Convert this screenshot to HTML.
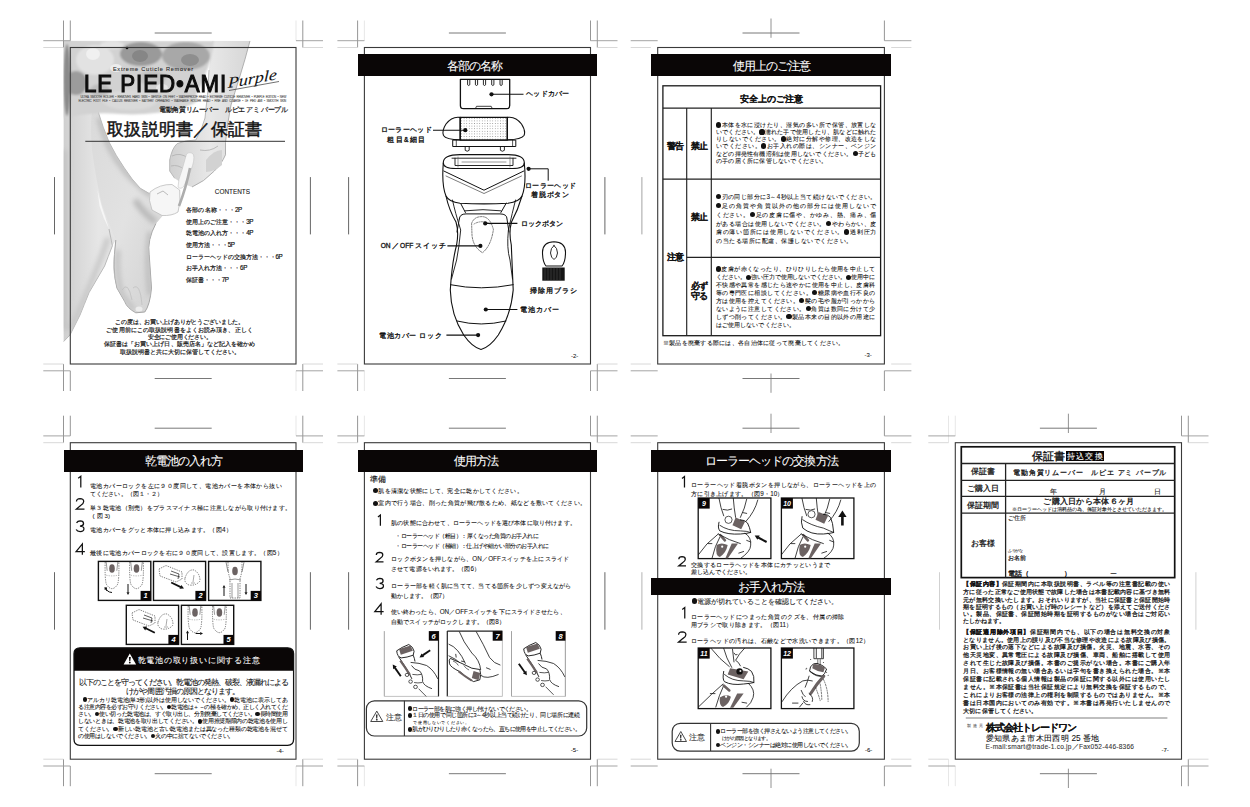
<!DOCTYPE html>
<html><head><meta charset="utf-8">
<style>
html,body{margin:0;padding:0;background:#fff;}
body{width:1250px;height:807px;position:relative;overflow:hidden;font-family:"Liberation Sans",sans-serif;}
.t{position:absolute;white-space:nowrap;overflow:visible;-webkit-text-stroke:0.08px currentColor;}
.bar{position:absolute;background:#0a0606;}
.abs{position:absolute;}
.d{display:inline-block;width:0.82em;height:0.82em;border-radius:50%;background:currentColor;vertical-align:-0.08em;}
svg.ov{position:absolute;left:0;top:0;}
</style></head><body>
<svg class="ov" width="1250" height="807" viewBox="0 0 1250 807">
<path d="M74,670.7 L74,653.8 Q74,647.8 80,647.8 L287.6,647.8 Q293.6,647.8 293.6,653.8 L293.6,670.7 Z" fill="#0a0606"/>
<defs><pattern id="dots" width="2.6" height="2.6" patternUnits="userSpaceOnUse"><circle cx="1.3" cy="1.3" r="0.45" fill="#777"/></pattern></defs>
<rect x="460.2" y="117.4" width="47.1" height="22.7" fill="url(#dots)"/>
<defs>
<filter id="bl1" x="-20%" y="-20%" width="140%" height="140%"><feGaussianBlur stdDeviation="1.2"/></filter>
<filter id="bl2" x="-20%" y="-20%" width="140%" height="140%"><feGaussianBlur stdDeviation="2.5"/></filter>
<filter id="bl05"><feGaussianBlur stdDeviation="0.5"/></filter>
<linearGradient id="legA" x1="0" y1="0" x2="1" y2="0"><stop offset="0" stop-color="#cfcfcf"/><stop offset="0.35" stop-color="#e6e6e6"/><stop offset="1" stop-color="#dcdcdc"/></linearGradient>
<linearGradient id="legB" x1="0" y1="0" x2="1" y2="1"><stop offset="0" stop-color="#dadada"/><stop offset="0.5" stop-color="#e2e2e2"/><stop offset="1" stop-color="#d0d0d0"/></linearGradient>
<linearGradient id="arm" x1="0" y1="0" x2="1" y2="0"><stop offset="0" stop-color="#d0d0d0"/><stop offset="0.5" stop-color="#e8e8e8"/><stop offset="1" stop-color="#d6d6d6"/></linearGradient>
<clipPath id="legclip"><path d="M63.4,40.8 L150,40.8 L150,100 L97.9,111 Q103,128 109.1,142.2 Q116,156 124,167.5 Q132,180 140.3,188.3 L150.7,194.3 L160,200 L164,214 L155.9,223.5 Q147,240 149.2,254.8 L151.5,288 Q150,305 144.8,312 L135.8,312.8 Q127,308 124.7,301.6 L116.9,288 Q112,270 113.5,259 L115.8,240 L112.4,245.8 Q108,257 104.6,266 L89,292.7 Q84,305 80,315 L70,335 L63.4,341.8 Z"/></clipPath>
<clipPath id="cov"><rect x="63.4" y="40.8" width="240" height="330"/></clipPath>
</defs>
<g clip-path="url(#cov)">
<g filter="url(#bl05)">
<path d="M63.4,40.8 L150,40.8 L150,100 L97.9,111 Q103,128 109.1,142.2 Q116,156 124,167.5 Q132,180 140.3,188.3 L150.7,194.3 L160,200 L164,214 L155.9,223.5 Q147,240 149.2,254.8 L151.5,288 Q150,305 144.8,312 L135.8,312.8 Q127,308 124.7,301.6 L116.9,288 Q112,270 113.5,259 L115.8,240 L112.4,245.8 Q108,257 104.6,266 L89,292.7 Q84,305 80,315 L70,335 L63.4,341.8 Z" fill="url(#legA)"/>
<path d="M97.9,111 Q103,128 109.1,142.2 Q116,156 124,167.5 Q132,180 140.3,188.3 L150.7,194.3 L160,200 L164,214 L155.9,223.5 Q147,240 149.2,254.8 L151.5,288 Q150,305 144.8,312 L135.8,312.8 Q127,308 124.7,301.6 L116.9,288 Q112,270 113.5,259 L115.8,240 Q108,222 102,205 Q96,180 92,150 Q90,130 92,111 Z" fill="url(#legB)"/>
<path d="M97.5,190 Q101,205 104.6,215 L109,229 Q103,218 99.5,206 Z" fill="#f6f6f6"/>
<path d="M97.9,111 Q103,128 109.1,142.2 Q116,156 124,167.5 Q132,180 140.3,188.3 L150.7,194.3" fill="none" stroke="#b4b4b4" stroke-width="0.9"/>
<path d="M115.8,240 Q112,270 116.9,288 L124.7,301.6 Q127,308 135.8,312.8 L144.8,312 Q150,305 151.5,288 L149.2,254.8 Q147,240 155.9,223.5" fill="none" stroke="#a6a6a6" stroke-width="1"/>
<path d="M109,229 L112.4,245.8 Q108,257 104.6,266 L89,292.7 Q84,305 80,315 L70,335 L63.4,341.8" fill="none" stroke="#b8b8b8" stroke-width="1"/>
<g clip-path="url(#legclip)"><g filter="url(#bl2)">
<path d="M99,118 Q106,148 124,170 Q136,184 152,196" fill="none" stroke="#bcbcbc" stroke-width="5"/>
<path d="M118,250 Q116,275 122,295 L134,310" fill="none" stroke="#c2c2c2" stroke-width="5"/>
<path d="M150,232 Q146,260 150,295" fill="none" stroke="#bdbdbd" stroke-width="5"/>
<path d="M108,238 Q100,262 88,290 Q80,310 70,330" fill="none" stroke="#c6c6c6" stroke-width="5"/>
<path d="M63.4,150 L63.4,330" fill="none" stroke="#c4c4c4" stroke-width="8"/>
<path d="M135,200 Q145,215 156,222" fill="none" stroke="#b8b8b8" stroke-width="6"/>
</g></g>
<ellipse cx="139" cy="309" rx="3.5" ry="2.5" fill="#ececec"/>
<path d="M122,290 Q128,280 132,300 M133,288 Q140,282 142,305" fill="none" stroke="#c0c0c0" stroke-width="0.8"/>
<path d="M212,40.8 L250,40.8 Q245,60 240,75.9 Q234,95 231,105 Q227,125 225.5,142.4 L225.5,154.8 Q221,165 214.3,171 Q204,182 192,187 Q182,184 174.7,178.3 L169.7,171 L169.7,160 Q172,148 177.2,143.6 Q186,140 195.8,140 Q202,130 205,118 Q208,95 209,70 Z" fill="url(#arm)"/>
<path d="M250,40.8 Q245,60 240,75.9 Q234,95 231,105 Q227,125 225.5,142.4 L225.5,154.8 Q221,165 214.3,171 Q204,182 192,187" fill="none" stroke="#a8a8a8" stroke-width="0.9"/>
<path d="M209,70 Q208,95 205,118 Q202,130 195.8,140 Q186,140 177.2,143.6 Q172,148 169.7,160 L169.7,171 L174.7,178.3" fill="none" stroke="#b2b2b2" stroke-width="0.9"/>
<path d="M172,156 Q180,152 188,158 M171,166 Q178,164 185,170 M200,150 Q210,152 218,146" fill="none" stroke="#b4b4b4" stroke-width="0.9"/>
<path d="M206,160 Q214,150 222,150 L222,165 Q214,172 206,172 Z" fill="#d2d2d2"/>
<path d="M186.5,154 Q190,151 193.5,154.5 Q195,160 191,170 L184,186 Q181,190 178,187 Q178,180 182,170 Z" fill="#f6f6f6" stroke="#c4c4c4" stroke-width="0.6"/>
<path d="M150,192 Q160,184 172,184.5 L179.7,190 Q181,202 178,212 Q172,216 162,215.5 L152,210 Q148,200 150,192 Z" fill="#f6f6f6" stroke="#bcbcbc" stroke-width="0.8"/>
<path d="M190,168 Q186,188 179,206" fill="none" stroke="#adadad" stroke-width="2.6"/>
<path d="M157,194 L163,191 L168,195" fill="none" stroke="#a0a0a0" stroke-width="0.7"/>
</g>
<g filter="url(#bl1)">
<path d="M63.4,40.8 L214,40.8 Q212,60 205,75 Q198,95 185,108 Q150,116 120,114 Q95,112 75,116 L63.4,118 Z" fill="#d2d2d2"/>
<ellipse cx="141" cy="54" rx="21" ry="12" fill="#9a9a9a"/>
<ellipse cx="186" cy="56" rx="24" ry="14" fill="#a8a8a8"/>
<ellipse cx="95" cy="60" rx="19" ry="15" fill="#e2e2e2"/>
<ellipse cx="76" cy="83" rx="11" ry="12" fill="#9c9c9c"/>
<ellipse cx="130" cy="100" rx="28" ry="10" fill="#dadada"/>
<ellipse cx="178" cy="98" rx="20" ry="9" fill="#d4d4d4"/>
<ellipse cx="67" cy="80" rx="3.5" ry="36" fill="#8a8a8a"/>
<ellipse cx="152" cy="78" rx="14" ry="7" fill="#c2c2c2"/>
<ellipse cx="112" cy="45" rx="12" ry="4" fill="#e4e4e4"/>
<ellipse cx="100" cy="90" rx="10" ry="6" fill="#bdbdbd"/>
</g>
<g filter="url(#bl05)">
<ellipse cx="140" cy="56" rx="8" ry="6" fill="#868686"/>
<ellipse cx="190" cy="60" rx="9" ry="6" fill="#8e8e8e"/>
<ellipse cx="116" cy="68" rx="6" ry="4" fill="#ececec"/>
<ellipse cx="93" cy="54" rx="7" ry="6" fill="#f0f0f0"/>
<ellipse cx="162" cy="88" rx="6" ry="4" fill="#e6e6e6"/>
<circle cx="127" cy="48" r="1.3" fill="#111"/>
</g>
</g>
<rect x="70.3" y="47.5" width="225.7" height="316.5" fill="none" stroke="#3a3a3a" stroke-width="1.1"/>
<rect x="364.4" y="47.5" width="226.1" height="316.5" fill="none" stroke="#3a3a3a" stroke-width="1.1"/>
<rect x="657.7" y="47.5" width="226.7" height="316.5" fill="none" stroke="#3a3a3a" stroke-width="1.1"/>
<rect x="70.3" y="442.7" width="225.7" height="316.5" fill="none" stroke="#3a3a3a" stroke-width="1.1"/>
<rect x="364.4" y="442.7" width="226.1" height="316.5" fill="none" stroke="#3a3a3a" stroke-width="1.1"/>
<rect x="657.7" y="442.7" width="226.7" height="316.5" fill="none" stroke="#3a3a3a" stroke-width="1.1"/>
<rect x="955.3" y="442.7" width="226.2" height="316.5" fill="none" stroke="#3a3a3a" stroke-width="1.1"/>
</svg>
<div class="bar" style="left:357.6px;top:54.3px;width:239.7px;height:21.9px"></div>
<div class="t" style="left:446.5px;top:58.5px;width:55.2px;height:15.0px;line-height:15.0px;font-size:11.5px;font-weight:normal;color:#fff;text-align:justify;text-align-last:justify;letter-spacing:-1.07px;">各部の名称</div>
<div class="bar" style="left:650.9px;top:54.3px;width:240.3px;height:21.9px"></div>
<div class="t" style="left:732.9px;top:58.5px;width:77.5px;height:15.0px;line-height:15.0px;font-size:11.5px;font-weight:normal;color:#fff;text-align:justify;text-align-last:justify;letter-spacing:-1.04px;">使用上のご注意</div>
<div class="bar" style="left:63.5px;top:449.5px;width:239.3px;height:22.3px"></div>
<div class="t" style="left:144.9px;top:453.9px;width:77.1px;height:15.0px;line-height:15.0px;font-size:11.5px;font-weight:normal;color:#fff;text-align:justify;text-align-last:justify;letter-spacing:-1.10px;">乾電池の入れ方</div>
<div class="bar" style="left:357.6px;top:449.5px;width:239.7px;height:22.3px"></div>
<div class="t" style="left:454.0px;top:453.9px;width:44.3px;height:15.0px;line-height:15.0px;font-size:11.5px;font-weight:normal;color:#fff;text-align:justify;text-align-last:justify;letter-spacing:-1.04px;">使用方法</div>
<div class="bar" style="left:650.9px;top:449.5px;width:240.3px;height:22.3px"></div>
<div class="t" style="left:704.5px;top:453.9px;width:133.1px;height:15.0px;line-height:15.0px;font-size:11.5px;font-weight:normal;color:#fff;text-align:justify;text-align-last:justify;letter-spacing:-1.02px;">ローラーヘッドの交換方法</div>
<div class="bar" style="left:650.9px;top:577.7px;width:240.3px;height:17.3px"></div>
<div class="t" style="left:737.8px;top:579.6px;width:66.5px;height:15.0px;line-height:15.0px;font-size:11.5px;font-weight:normal;color:#fff;text-align:justify;text-align-last:justify;letter-spacing:-1.03px;">お手入れ方法</div>
<div class="t" style="left:740.3px;top:92.5px;width:62.4px;height:12.0px;line-height:12.0px;font-size:9.2px;font-weight:bold;color:#111;text-align:justify;text-align-last:justify;letter-spacing:-0.17px;">安全上のご注意</div>
<div class="t" style="left:666.6px;top:141.2px;width:17.1px;height:11.2px;line-height:11.2px;font-size:8.6px;font-weight:bold;color:#111;text-align:justify;text-align-last:justify;letter-spacing:-0.54px;">警告</div>
<div class="t" style="left:690.5px;top:141.2px;width:17.1px;height:11.2px;line-height:11.2px;font-size:8.6px;font-weight:bold;color:#111;text-align:justify;text-align-last:justify;letter-spacing:-0.54px;">禁止</div>
<div class="t" style="left:666.6px;top:251.8px;width:17.1px;height:11.2px;line-height:11.2px;font-size:8.6px;font-weight:bold;color:#111;text-align:justify;text-align-last:justify;letter-spacing:-0.54px;">注意</div>
<div class="t" style="left:690.5px;top:212.2px;width:17.1px;height:11.2px;line-height:11.2px;font-size:8.6px;font-weight:bold;color:#111;text-align:justify;text-align-last:justify;letter-spacing:-0.54px;">禁止</div>
<div class="t" style="left:690.6px;top:280.7px;width:17.1px;height:11.2px;line-height:11.2px;font-size:8.6px;font-weight:bold;color:#111;text-align:justify;text-align-last:justify;letter-spacing:-0.54px;">必ず</div>
<div class="t" style="left:690.6px;top:290.6px;width:17.1px;height:11.2px;line-height:11.2px;font-size:8.6px;font-weight:bold;color:#111;text-align:justify;text-align-last:justify;letter-spacing:-0.54px;">守る</div>
<div class="t" style="left:716.0px;top:121.0px;width:160.4px;height:8.2px;line-height:8.2px;font-size:6.3px;font-weight:normal;color:#111;text-align:justify;text-align-last:justify;"><i class="d"></i>本体を水に浸けたり、湿気の多い所で保管、放置しな</div>
<div class="t" style="left:716.0px;top:128.1px;width:160.4px;height:8.2px;line-height:8.2px;font-size:6.3px;font-weight:normal;color:#111;text-align:justify;text-align-last:justify;">いでください。<i class="d"></i>濡れた手で使用したり、肌などに触れた</div>
<div class="t" style="left:716.0px;top:135.0px;width:160.4px;height:8.2px;line-height:8.2px;font-size:6.3px;font-weight:normal;color:#111;text-align:justify;text-align-last:justify;">りしないでください。<i class="d"></i>絶対に分解や修理、改造をしな</div>
<div class="t" style="left:716.0px;top:142.1px;width:160.4px;height:8.2px;line-height:8.2px;font-size:6.3px;font-weight:normal;color:#111;text-align:justify;text-align-last:justify;">いでください。<i class="d"></i>お手入れの際は、シンナー、ベンジン</div>
<div class="t" style="left:716.0px;top:149.5px;width:160.4px;height:8.2px;line-height:8.2px;font-size:6.3px;font-weight:normal;color:#111;text-align:justify;text-align-last:justify;">などの揮発性有機溶剤は使用しないでください。<i class="d"></i>子ども</div>
<div class="t" style="left:716.0px;top:156.5px;width:111.3px;height:8.2px;line-height:8.2px;font-size:6.3px;font-weight:normal;color:#111;text-align:justify;text-align-last:justify;">の手の届く所に保管しないでください。</div>
<div class="t" style="left:716.0px;top:192.6px;width:160.4px;height:8.2px;line-height:8.2px;font-size:6.3px;font-weight:normal;color:#111;text-align:justify;text-align-last:justify;"><i class="d"></i>刃の同じ部分に3～4秒以上当て続けないでください。</div>
<div class="t" style="left:716.0px;top:201.5px;width:160.4px;height:8.2px;line-height:8.2px;font-size:6.3px;font-weight:normal;color:#111;text-align:justify;text-align-last:justify;"><i class="d"></i>足の角質や角質以外の他の部分には使用しないで</div>
<div class="t" style="left:716.0px;top:210.6px;width:160.4px;height:8.2px;line-height:8.2px;font-size:6.3px;font-weight:normal;color:#111;text-align:justify;text-align-last:justify;">ください。<i class="d"></i>足の皮膚に傷や、かゆみ、熱、痛み、傷</div>
<div class="t" style="left:716.0px;top:219.5px;width:160.4px;height:8.2px;line-height:8.2px;font-size:6.3px;font-weight:normal;color:#111;text-align:justify;text-align-last:justify;">がある場合は使用しないでください。<i class="d"></i>やわらかい、皮</div>
<div class="t" style="left:716.0px;top:228.1px;width:160.4px;height:8.2px;line-height:8.2px;font-size:6.3px;font-weight:normal;color:#111;text-align:justify;text-align-last:justify;">膚の薄い箇所には使用しないでください。<i class="d"></i>過剰圧力</div>
<div class="t" style="left:716.0px;top:237.0px;width:136.4px;height:8.2px;line-height:8.2px;font-size:6.3px;font-weight:normal;color:#111;text-align:justify;text-align-last:justify;">の当たる場所に配慮、保護しないでください。</div>
<div class="t" style="left:715.8px;top:265.1px;width:159.3px;height:8.2px;line-height:8.2px;font-size:6.3px;font-weight:normal;color:#111;text-align:justify;text-align-last:justify;"><i class="d"></i>皮膚が赤くなったり、ひりひりしたら使用を中止して</div>
<div class="t" style="left:715.8px;top:273.2px;width:159.3px;height:8.2px;line-height:8.2px;font-size:6.3px;font-weight:normal;color:#111;text-align:justify;text-align-last:justify;letter-spacing:-0.10px;">ください。<i class="d"></i>強い圧力で使用しないでください。<i class="d"></i>使用中に</div>
<div class="t" style="left:715.8px;top:280.8px;width:159.3px;height:8.2px;line-height:8.2px;font-size:6.3px;font-weight:normal;color:#111;text-align:justify;text-align-last:justify;">不快感や異常を感じたら速やかに使用を中止し、皮膚科</div>
<div class="t" style="left:715.8px;top:288.5px;width:159.3px;height:8.2px;line-height:8.2px;font-size:6.3px;font-weight:normal;color:#111;text-align:justify;text-align-last:justify;">等の専門医に相談してください。<i class="d"></i>糖尿病や血行不良の</div>
<div class="t" style="left:715.8px;top:296.6px;width:159.3px;height:8.2px;line-height:8.2px;font-size:6.3px;font-weight:normal;color:#111;text-align:justify;text-align-last:justify;">方は使用を控えてください。<i class="d"></i>髪の毛や服が引っかから</div>
<div class="t" style="left:715.8px;top:304.7px;width:159.3px;height:8.2px;line-height:8.2px;font-size:6.3px;font-weight:normal;color:#111;text-align:justify;text-align-last:justify;">ないように注意してください。<i class="d"></i>角質は数回に分けて少</div>
<div class="t" style="left:715.8px;top:312.8px;width:159.3px;height:8.2px;line-height:8.2px;font-size:6.3px;font-weight:normal;color:#111;text-align:justify;text-align-last:justify;">しずつ削ってください。<i class="d"></i>製品本来の目的以外の用途に</div>
<div class="t" style="left:715.8px;top:320.5px;width:79.2px;height:8.2px;line-height:8.2px;font-size:6.3px;font-weight:normal;color:#111;text-align:justify;text-align-last:justify;">はご使用しないでください。</div>
<div class="t" style="left:662.7px;top:338.9px;width:181.8px;height:8.2px;line-height:8.2px;font-size:6.3px;font-weight:normal;color:#111;text-align:justify;text-align-last:justify;">※製品を廃棄する際には、各自治体に従って廃棄してください。</div>
<div class="t" style="left:864.5px;top:351.7px;width:8.5px;height:7.8px;line-height:7.8px;font-size:6px;font-weight:normal;color:#222;">-3-</div>
<div class="t" style="left:1031.5px;top:449.4px;width:33.5px;height:14.3px;line-height:14.3px;font-size:11px;font-weight:normal;color:#111;text-align:justify;text-align-last:justify;-webkit-text-stroke:0.35px #111;letter-spacing:-0.20px;">保証書</div>
<div class="abs" style="left:1065.6px;top:450.5px;width:38.3px;height:10.8px;background:#0a0606"></div>
<div class="t" style="left:1066.8px;top:451.2px;width:36.0px;height:10.8px;line-height:10.8px;font-size:8.3px;font-weight:normal;color:#fff;text-align:justify;text-align-last:justify;">持込交換</div>
<div class="t" style="left:971.0px;top:467.3px;width:23.8px;height:10.1px;line-height:10.1px;font-size:7.8px;font-weight:normal;color:#111;text-align:justify;text-align-last:justify;-webkit-text-stroke:0.25px #111;letter-spacing:-0.40px;">保証書</div>
<div class="t" style="left:1013.2px;top:467.7px;width:153.3px;height:9.5px;line-height:9.5px;font-size:7.3px;font-weight:normal;color:#111;text-align:justify;text-align-last:justify;-webkit-text-stroke:0.25px #111">電動角質リムーバー　ルピエ アミ パープル</div>
<div class="t" style="left:966.7px;top:483.9px;width:32.0px;height:10.1px;line-height:10.1px;font-size:7.8px;font-weight:normal;color:#111;text-align:justify;text-align-last:justify;-webkit-text-stroke:0.25px #111;letter-spacing:-0.33px;">ご購入日</div>
<div class="t" style="left:1050.0px;top:487.9px;width:7.0px;height:8.8px;line-height:8.8px;font-size:6.8px;font-weight:normal;color:#111;">年</div>
<div class="t" style="left:1099.0px;top:487.9px;width:7.0px;height:8.8px;line-height:8.8px;font-size:6.8px;font-weight:normal;color:#111;">月</div>
<div class="t" style="left:1154.0px;top:487.9px;width:7.0px;height:8.8px;line-height:8.8px;font-size:6.8px;font-weight:normal;color:#111;">日</div>
<div class="t" style="left:966.7px;top:500.6px;width:32.0px;height:10.1px;line-height:10.1px;font-size:7.8px;font-weight:normal;color:#111;text-align:justify;text-align-last:justify;-webkit-text-stroke:0.25px #111;letter-spacing:-0.33px;">保証期間</div>
<div class="t" style="left:1043.4px;top:497.3px;width:90.7px;height:10.7px;line-height:10.7px;font-size:8.2px;font-weight:normal;color:#111;text-align:justify;text-align-last:justify;-webkit-text-stroke:0.3px #111;letter-spacing:-0.09px;">ご購入日から本体６ヶ月</div>
<div class="t" style="left:1011.6px;top:507.0px;width:154.9px;height:6.0px;line-height:6.0px;font-size:4.6px;font-weight:normal;color:#111;text-align:justify;text-align-last:justify;letter-spacing:-0.05px;">※ローラーヘッドは消耗品の為、保証対象外とさせていただきます。</div>
<div class="t" style="left:971.0px;top:538.6px;width:23.8px;height:10.1px;line-height:10.1px;font-size:7.8px;font-weight:normal;color:#111;text-align:justify;text-align-last:justify;-webkit-text-stroke:0.25px #111;letter-spacing:-0.40px;">お客様</div>
<div class="t" style="left:1008.2px;top:515.4px;width:18.0px;height:7.8px;line-height:7.8px;font-size:6px;font-weight:normal;color:#111;text-align:justify;text-align-last:justify;letter-spacing:-0.06px;">ご住所</div>
<div class="t" style="left:1008.2px;top:548.9px;width:14.0px;height:4.5px;line-height:4.5px;font-size:3.5px;font-weight:normal;color:#111;text-align:justify;text-align-last:justify;letter-spacing:-0.54px;">ふりがな</div>
<div class="t" style="left:1008.2px;top:554.7px;width:18.0px;height:7.8px;line-height:7.8px;font-size:6px;font-weight:normal;color:#111;text-align:justify;text-align-last:justify;-webkit-text-stroke:0.2px #111;letter-spacing:-0.31px;">お名前</div>
<div class="t" style="left:1008.2px;top:568.7px;width:72.0px;height:9.1px;line-height:9.1px;font-size:7px;font-weight:normal;color:#111;-webkit-text-stroke:0.3px #111">電話（　　　　　）</div>
<div class="t" style="left:1110.0px;top:568.7px;width:8.0px;height:9.1px;line-height:9.1px;font-size:7px;font-weight:normal;color:#111;">ー</div>
<div class="t" style="left:963.1px;top:580.3px;width:207.0px;height:8.1px;line-height:8.1px;font-size:6.2px;font-weight:normal;color:#111;text-align:justify;text-align-last:justify;-webkit-text-stroke:0.22px #111"><b>【保証内容】</b>保証期間内に本取扱説明書、ラベル等の注意書記載の使い</div>
<div class="t" style="left:963.1px;top:588.4px;width:207.0px;height:8.1px;line-height:8.1px;font-size:6.2px;font-weight:normal;color:#111;text-align:justify;text-align-last:justify;-webkit-text-stroke:0.22px #111;letter-spacing:-0.04px;">方に従った正常なご使用状態で故障した場合は本書記載内容に基づき無料</div>
<div class="t" style="left:963.1px;top:595.6px;width:207.0px;height:8.1px;line-height:8.1px;font-size:6.2px;font-weight:normal;color:#111;text-align:justify;text-align-last:justify;-webkit-text-stroke:0.22px #111;letter-spacing:-0.04px;">元が無料交換いたします。おそれいりますが、当社に保証書と保証開始時</div>
<div class="t" style="left:963.1px;top:602.8px;width:207.0px;height:8.1px;line-height:8.1px;font-size:6.2px;font-weight:normal;color:#111;text-align:justify;text-align-last:justify;-webkit-text-stroke:0.22px #111;letter-spacing:-0.04px;">期を証明するもの（お買い上げ時のレシートなど）を添えてご送付くださ</div>
<div class="t" style="left:963.1px;top:610.0px;width:207.0px;height:8.1px;line-height:8.1px;font-size:6.2px;font-weight:normal;color:#111;text-align:justify;text-align-last:justify;-webkit-text-stroke:0.22px #111">い。製品、保証書、保証開始時期を証明するものがない場合はご対応い</div>
<div class="t" style="left:963.1px;top:617.2px;width:41.4px;height:8.1px;line-height:8.1px;font-size:6.2px;font-weight:normal;color:#111;text-align:justify;text-align-last:justify;-webkit-text-stroke:0.22px #111;letter-spacing:-0.39px;">たしかねます。</div>
<div class="t" style="left:963.1px;top:628.4px;width:207.0px;height:8.1px;line-height:8.1px;font-size:6.2px;font-weight:normal;color:#111;text-align:justify;text-align-last:justify;-webkit-text-stroke:0.22px #111"><b>【保証適用除外項目】</b>保証期間内でも、以下の場合は無料交換の対象</div>
<div class="t" style="left:963.1px;top:635.6px;width:207.0px;height:8.1px;line-height:8.1px;font-size:6.2px;font-weight:normal;color:#111;text-align:justify;text-align-last:justify;-webkit-text-stroke:0.22px #111;letter-spacing:-0.04px;">となりません。使用上の誤り及び不当な修理や改造による故障及び損傷。</div>
<div class="t" style="left:963.1px;top:643.3px;width:207.0px;height:8.1px;line-height:8.1px;font-size:6.2px;font-weight:normal;color:#111;text-align:justify;text-align-last:justify;-webkit-text-stroke:0.22px #111">お買い上げ後の落下などによる故障及び損傷。火災、地震、水害、その</div>
<div class="t" style="left:963.1px;top:651.2px;width:207.0px;height:8.1px;line-height:8.1px;font-size:6.2px;font-weight:normal;color:#111;text-align:justify;text-align-last:justify;-webkit-text-stroke:0.22px #111">他天災地変、異常電圧による故障及び損傷、車両、船舶に搭載して使用</div>
<div class="t" style="left:963.1px;top:659.3px;width:207.0px;height:8.1px;line-height:8.1px;font-size:6.2px;font-weight:normal;color:#111;text-align:justify;text-align-last:justify;-webkit-text-stroke:0.22px #111">されて生じた故障及び損傷。本書のご提示がない場合。本書にご購入年</div>
<div class="t" style="left:963.1px;top:667.0px;width:207.0px;height:8.1px;line-height:8.1px;font-size:6.2px;font-weight:normal;color:#111;text-align:justify;text-align-last:justify;-webkit-text-stroke:0.22px #111">月日、お客様情報の無い場合あるいは字句を書き換えられた場合。※本</div>
<div class="t" style="left:963.1px;top:675.1px;width:207.0px;height:8.1px;line-height:8.1px;font-size:6.2px;font-weight:normal;color:#111;text-align:justify;text-align-last:justify;-webkit-text-stroke:0.22px #111">保証書に記載される個人情報は製品の保証に関する以外には使用いたし</div>
<div class="t" style="left:963.1px;top:683.2px;width:207.0px;height:8.1px;line-height:8.1px;font-size:6.2px;font-weight:normal;color:#111;text-align:justify;text-align-last:justify;-webkit-text-stroke:0.22px #111">ません。※本保証書は当社保証規定により無料交換を保証するもので、</div>
<div class="t" style="left:963.1px;top:690.8px;width:207.0px;height:8.1px;line-height:8.1px;font-size:6.2px;font-weight:normal;color:#111;text-align:justify;text-align-last:justify;-webkit-text-stroke:0.22px #111">これによりお客様の法律上の権利を制限するものではありません。※本</div>
<div class="t" style="left:963.1px;top:698.9px;width:207.0px;height:8.1px;line-height:8.1px;font-size:6.2px;font-weight:normal;color:#111;text-align:justify;text-align-last:justify;-webkit-text-stroke:0.22px #111">書は日本国内においてのみ有効です。※本書は再発行いたしませんので</div>
<div class="t" style="left:963.1px;top:707.0px;width:73.8px;height:8.1px;line-height:8.1px;font-size:6.2px;font-weight:normal;color:#111;text-align:justify;text-align-last:justify;-webkit-text-stroke:0.22px #111;letter-spacing:-0.16px;">大切に保管してください。</div>
<div class="t" style="left:966.7px;top:723.8px;width:16.2px;height:4.9px;line-height:4.9px;font-size:3.8px;font-weight:normal;color:#666;text-align:justify;text-align-last:justify;">製造元</div>
<div class="t" style="left:985.6px;top:722.3px;width:90.4px;height:12.5px;line-height:12.5px;font-size:9.6px;font-weight:bold;color:#111;text-align:justify;text-align-last:justify;letter-spacing:-1.05px;">株式会社トレードワン</div>
<div class="t" style="left:985.6px;top:733.0px;width:113.4px;height:10.8px;line-height:10.8px;font-size:8.3px;font-weight:normal;color:#111;text-align:justify;text-align-last:justify;letter-spacing:-0.27px;">愛知県あま市木田西明 25 番地</div>
<div class="t" style="left:985.6px;top:743.1px;width:149.4px;height:8.6px;line-height:8.6px;font-size:6.6px;font-weight:normal;color:#333;letter-spacing:0.22px">E-mail:smart@trade-1.co.jp／Fax052-446-8366</div>
<div class="t" style="left:1161.5px;top:747.2px;width:8.0px;height:7.8px;line-height:7.8px;font-size:6px;font-weight:normal;color:#111;">-7-</div>
<div class="t" style="left:90.1px;top:481.7px;width:191.6px;height:8.3px;line-height:8.3px;font-size:6.4px;font-weight:normal;color:#111;text-align:justify;text-align-last:justify;">電池カバーロックを左に９０度回して、電池カバーを本体から抜い</div>
<div class="t" style="left:90.1px;top:489.7px;width:73.1px;height:8.3px;line-height:8.3px;font-size:6.4px;font-weight:normal;color:#111;text-align:justify;text-align-last:justify;">てください。（図１・２）</div>
<div class="t" style="left:90.1px;top:503.9px;width:200.9px;height:8.3px;line-height:8.3px;font-size:6.4px;font-weight:normal;color:#111;text-align:justify;text-align-last:justify;">単３乾電池（別売）をプラスマイナス極に注意しながら取り付けます。</div>
<div class="t" style="left:92.4px;top:511.7px;width:17.7px;height:8.1px;line-height:8.1px;font-size:6.2px;font-weight:normal;color:#111;text-align:justify;text-align-last:justify;">(図3)</div>
<div class="t" style="left:90.1px;top:525.7px;width:141.7px;height:8.3px;line-height:8.3px;font-size:6.4px;font-weight:normal;color:#111;text-align:justify;text-align-last:justify;">電池カバーをグッと本体に押し込みます。（図4）</div>
<div class="t" style="left:90.1px;top:548.9px;width:192.6px;height:8.3px;line-height:8.3px;font-size:6.4px;font-weight:normal;color:#111;text-align:justify;text-align-last:justify;">最後に電池カバーロックを右に９０度回して、設置します。（図5）</div>
<div class="t" style="left:137.5px;top:654.8px;width:122.4px;height:11.0px;line-height:11.0px;font-size:8.45px;font-weight:normal;color:#fff;text-align:justify;text-align-last:justify;">乾電池の取り扱いに関する注意</div>
<div class="t" style="left:79.2px;top:676.7px;width:208.3px;height:10.8px;line-height:10.8px;font-size:8.3px;font-weight:normal;color:#111;text-align:justify;text-align-last:justify;letter-spacing:-1.13px;">以下のことを守ってください。乾電池の発熱、破裂、液漏れによる</div>
<div class="t" style="left:126.2px;top:685.7px;width:113.2px;height:10.8px;line-height:10.8px;font-size:8.3px;font-weight:normal;color:#111;text-align:justify;text-align-last:justify;letter-spacing:-1.00px;">けがや周囲汚損の原因となります。</div>
<div class="t" style="left:82.6px;top:696.5px;width:204.9px;height:7.2px;line-height:7.2px;font-size:5.5px;font-weight:normal;color:#111;text-align:justify;text-align-last:justify;letter-spacing:-0.23px;"><i class="d"></i>アルカリ乾電池(単3形)以外は使用しないでください。<i class="d"></i>乾電池に表示してあ</div>
<div class="t" style="left:78.1px;top:703.9px;width:209.4px;height:7.2px;line-height:7.2px;font-size:5.5px;font-weight:normal;color:#111;text-align:justify;text-align-last:justify;letter-spacing:-0.51px;">る注意内容を必ずお守りください。<i class="d"></i>乾電池は＋－の極を確かめ、正しく入れてくだ</div>
<div class="t" style="left:78.1px;top:711.0px;width:209.4px;height:7.2px;line-height:7.2px;font-size:5.5px;font-weight:normal;color:#111;text-align:justify;text-align-last:justify;letter-spacing:-0.47px;">さい。<i class="d"></i>使い切った乾電池は、すぐ取り出し、分別廃棄してください。<i class="d"></i>長時間使用</div>
<div class="t" style="left:78.1px;top:718.2px;width:209.4px;height:7.2px;line-height:7.2px;font-size:5.5px;font-weight:normal;color:#111;text-align:justify;text-align-last:justify;letter-spacing:-0.36px;">しないときは、乾電池を取り出してください。<i class="d"></i>使用推奨期限内の乾電池を使用し</div>
<div class="t" style="left:78.1px;top:725.6px;width:209.4px;height:7.2px;line-height:7.2px;font-size:5.5px;font-weight:normal;color:#111;text-align:justify;text-align-last:justify;letter-spacing:-0.20px;">てください。<i class="d"></i>新しい乾電池と古い乾電池または異なった種類の乾電池を混ぜて</div>
<div class="t" style="left:78.1px;top:732.8px;width:155.7px;height:7.2px;line-height:7.2px;font-size:5.5px;font-weight:normal;color:#111;text-align:justify;text-align-last:justify;letter-spacing:-0.44px;">の使用はしないでください。<i class="d"></i>火の中に捨てないでください。</div>
<div class="t" style="left:276.5px;top:747.8px;width:8.0px;height:7.8px;line-height:7.8px;font-size:6px;font-weight:normal;color:#111;">-4-</div>
<div class="t" style="left:370.4px;top:475.2px;width:15.4px;height:10.0px;line-height:10.0px;font-size:7.7px;font-weight:normal;color:#111;text-align:justify;text-align-last:justify;-webkit-text-stroke:0.15px #111;letter-spacing:-0.63px;">準備</div>
<div class="t" style="left:372.9px;top:486.7px;width:149.7px;height:8.1px;line-height:8.1px;font-size:6.2px;font-weight:normal;color:#111;text-align:justify;text-align-last:justify;"><i class="d"></i>肌を清潔な状態にして、完全に乾かしてください。</div>
<div class="t" style="left:372.9px;top:499.1px;width:213.1px;height:8.1px;line-height:8.1px;font-size:6.2px;font-weight:normal;color:#111;text-align:justify;text-align-last:justify;"><i class="d"></i>室内で行う場合、削った角質が飛び散るため、紙などを敷いてください。</div>
<div class="t" style="left:391.2px;top:519.4px;width:184.5px;height:8.2px;line-height:8.2px;font-size:6.3px;font-weight:normal;color:#111;text-align:justify;text-align-last:justify;">肌の状態に合わせて、ローラーヘッドを選び本体に取り付けます。</div>
<div class="t" style="left:395.3px;top:532.9px;width:142.9px;height:7.5px;line-height:7.5px;font-size:5.8px;font-weight:normal;color:#111;text-align:justify;text-align-last:justify;letter-spacing:-0.56px;">・ローラーヘッド（粗目）：厚くなった角質のお手入れに</div>
<div class="t" style="left:395.3px;top:542.6px;width:153.3px;height:7.5px;line-height:7.5px;font-size:5.8px;font-weight:normal;color:#111;text-align:justify;text-align-last:justify;letter-spacing:-0.58px;">・ローラーヘッド（極細）：仕上げや細かい部分のお手入れに</div>
<div class="t" style="left:391.2px;top:555.2px;width:178.2px;height:8.2px;line-height:8.2px;font-size:6.3px;font-weight:normal;color:#111;text-align:justify;text-align-last:justify;">ロックボタンを押しながら、ON／OFFスイッチを上にスライド</div>
<div class="t" style="left:391.2px;top:564.5px;width:88.8px;height:8.2px;line-height:8.2px;font-size:6.3px;font-weight:normal;color:#111;text-align:justify;text-align-last:justify;">させて電源をいれます。（図6）</div>
<div class="t" style="left:391.2px;top:581.6px;width:180.3px;height:8.2px;line-height:8.2px;font-size:6.3px;font-weight:normal;color:#111;text-align:justify;text-align-last:justify;">ローラー部を軽く肌に当てて、当てる箇所を少しずつ変えながら</div>
<div class="t" style="left:391.2px;top:591.6px;width:56.6px;height:8.2px;line-height:8.2px;font-size:6.3px;font-weight:normal;color:#111;text-align:justify;text-align-last:justify;letter-spacing:-0.19px;">動かします。（図7）</div>
<div class="t" style="left:390.9px;top:608.4px;width:174.7px;height:8.2px;line-height:8.2px;font-size:6.3px;font-weight:normal;color:#111;text-align:justify;text-align-last:justify;">使い終わったら、ON／OFFスイッチを下にスライドさせたら、</div>
<div class="t" style="left:390.9px;top:618.1px;width:114.0px;height:8.2px;line-height:8.2px;font-size:6.3px;font-weight:normal;color:#111;text-align:justify;text-align-last:justify;">自動でスイッチがロックします。（図8）</div>
<div class="t" style="left:386.4px;top:713.4px;width:15.6px;height:10.1px;line-height:10.1px;font-size:7.8px;font-weight:normal;color:#333;text-align:justify;text-align-last:justify;letter-spacing:-0.28px;">注意</div>
<div class="t" style="left:407.5px;top:705.6px;width:123.4px;height:7.3px;line-height:7.3px;font-size:5.6px;font-weight:normal;color:#111;text-align:justify;text-align-last:justify;letter-spacing:-0.63px;"><i class="d"></i>ローラー部を肌に強く押し付けないでください。</div>
<div class="t" style="left:407.5px;top:712.4px;width:171.7px;height:7.3px;line-height:7.3px;font-size:5.6px;font-weight:normal;color:#111;text-align:justify;text-align-last:justify;letter-spacing:-0.49px;"><i class="d"></i>１日の使用で同じ箇所に3～4秒以上当て続けたり、同じ場所に連続</div>
<div class="t" style="left:413.2px;top:719.8px;width:55.8px;height:5.8px;line-height:5.8px;font-size:4.45px;font-weight:normal;color:#111;text-align:justify;text-align-last:justify;">で使用しないでください。</div>
<div class="t" style="left:407.5px;top:726.4px;width:172.5px;height:7.3px;line-height:7.3px;font-size:5.6px;font-weight:normal;color:#111;text-align:justify;text-align-last:justify;letter-spacing:-0.62px;"><i class="d"></i>肌がひりひりしたり赤くなったら、直ちに使用を中止してください。</div>
<div class="t" style="left:570.8px;top:747.4px;width:8.0px;height:7.8px;line-height:7.8px;font-size:6px;font-weight:normal;color:#111;">-5-</div>
<div class="t" style="left:691.0px;top:481.3px;width:185.1px;height:8.2px;line-height:8.2px;font-size:6.3px;font-weight:normal;color:#111;text-align:justify;text-align-last:justify;">ローラーヘッド着脱ボタンを押しながら、ローラーヘッドを上の</div>
<div class="t" style="left:691.0px;top:489.6px;width:92.5px;height:8.2px;line-height:8.2px;font-size:6.3px;font-weight:normal;color:#111;text-align:justify;text-align-last:justify;">方に引き上げます。（図9・10）</div>
<div class="t" style="left:691.0px;top:561.0px;width:139.3px;height:8.2px;line-height:8.2px;font-size:6.3px;font-weight:normal;color:#111;text-align:justify;text-align-last:justify;">交換するローラヘッドを本体にカチッというまで</div>
<div class="t" style="left:691.0px;top:568.0px;width:60.3px;height:8.2px;line-height:8.2px;font-size:6.3px;font-weight:normal;color:#111;text-align:justify;text-align-last:justify;letter-spacing:-0.03px;">差し込んでください。</div>
<div class="t" style="left:691.5px;top:597.5px;width:146.8px;height:8.8px;line-height:8.8px;font-size:6.8px;font-weight:normal;color:#111;text-align:justify;text-align-last:justify;"><i class="d"></i>電源が切れていることを確認してください。</div>
<div class="t" style="left:690.8px;top:612.6px;width:153.7px;height:8.2px;line-height:8.2px;font-size:6.3px;font-weight:normal;color:#111;text-align:justify;text-align-last:justify;">ローラーヘッドにつまった角質のクズを、付属の掃除</div>
<div class="t" style="left:690.8px;top:620.6px;width:101.6px;height:8.2px;line-height:8.2px;font-size:6.3px;font-weight:normal;color:#111;text-align:justify;text-align-last:justify;">用ブラシで取り除きます。（図11）</div>
<div class="t" style="left:690.8px;top:637.4px;width:178.4px;height:8.2px;line-height:8.2px;font-size:6.3px;font-weight:normal;color:#111;text-align:justify;text-align-last:justify;">ローラヘッドの汚れは、石鹸などで水洗いできます。（図12）</div>
<div class="t" style="left:689.0px;top:733.0px;width:16.0px;height:10.4px;line-height:10.4px;font-size:8px;font-weight:normal;color:#333;text-align:justify;text-align-last:justify;letter-spacing:-0.08px;">注意</div>
<div class="t" style="left:715.6px;top:728.4px;width:136.3px;height:7.3px;line-height:7.3px;font-size:5.6px;font-weight:normal;color:#111;text-align:justify;text-align-last:justify;letter-spacing:-0.55px;"><i class="d"></i>ローラー部を強く押さえないよう注意してください。</div>
<div class="t" style="left:721.8px;top:735.3px;width:48.3px;height:6.8px;line-height:6.8px;font-size:5.2px;font-weight:normal;color:#111;text-align:justify;text-align-last:justify;letter-spacing:-0.65px;">けがの原因となります。</div>
<div class="t" style="left:715.6px;top:742.0px;width:136.3px;height:7.3px;line-height:7.3px;font-size:5.6px;font-weight:normal;color:#111;text-align:justify;text-align-last:justify;letter-spacing:-0.55px;"><i class="d"></i>ベンジン・シンナーは絶対に使用しないでください。</div>
<div class="t" style="left:865.0px;top:747.4px;width:8.0px;height:7.8px;line-height:7.8px;font-size:6px;font-weight:normal;color:#111;">-6-</div>
<div class="t" style="left:526.4px;top:89.9px;width:42.0px;height:8.6px;line-height:8.6px;font-size:6.6px;font-weight:normal;color:#111;text-align:justify;text-align-last:justify;-webkit-text-stroke:0.3px #111;letter-spacing:-0.32px;">ヘッドカバー</div>
<div class="t" style="left:380.5px;top:126.1px;width:51.1px;height:8.6px;line-height:8.6px;font-size:6.6px;font-weight:normal;color:#111;text-align:justify;text-align-last:justify;-webkit-text-stroke:0.3px #111">ローラーヘッド</div>
<div class="t" style="left:387.2px;top:136.2px;width:37.9px;height:8.6px;line-height:8.6px;font-size:6.6px;font-weight:normal;color:#111;text-align:justify;text-align-last:justify;-webkit-text-stroke:0.3px #111">粗目&細目</div>
<div class="t" style="left:520.9px;top:220.3px;width:42.2px;height:8.6px;line-height:8.6px;font-size:6.6px;font-weight:normal;color:#111;text-align:justify;text-align-last:justify;-webkit-text-stroke:0.3px #111;letter-spacing:-0.29px;">ロックボタン</div>
<div class="t" style="left:380.7px;top:242.4px;width:65.7px;height:8.6px;line-height:8.6px;font-size:6.6px;font-weight:normal;color:#111;text-align:justify;text-align-last:justify;-webkit-text-stroke:0.3px #111">ON／OFFスイッチ</div>
<div class="t" style="left:525.1px;top:181.5px;width:50.9px;height:8.6px;line-height:8.6px;font-size:6.6px;font-weight:normal;color:#111;text-align:justify;text-align-last:justify;-webkit-text-stroke:0.3px #111;letter-spacing:-0.05px;">ローラーヘッド</div>
<div class="t" style="left:530.9px;top:191.1px;width:38.4px;height:8.6px;line-height:8.6px;font-size:6.6px;font-weight:normal;color:#111;text-align:justify;text-align-last:justify;-webkit-text-stroke:0.3px #111">着脱ボタン</div>
<div class="t" style="left:520.3px;top:305.9px;width:38.4px;height:8.6px;line-height:8.6px;font-size:6.6px;font-weight:normal;color:#111;text-align:justify;text-align-last:justify;-webkit-text-stroke:0.3px #111">電池カバー</div>
<div class="t" style="left:379.2px;top:331.5px;width:62.4px;height:8.6px;line-height:8.6px;font-size:6.6px;font-weight:normal;color:#111;text-align:justify;text-align-last:justify;-webkit-text-stroke:0.3px #111;letter-spacing:-0.06px;">電池カバー ロック</div>
<div class="t" style="left:530.0px;top:287.1px;width:47.0px;height:8.6px;line-height:8.6px;font-size:6.6px;font-weight:normal;color:#111;text-align:justify;text-align-last:justify;-webkit-text-stroke:0.3px #111">掃除用ブラシ</div>
<div class="t" style="left:571.0px;top:353.0px;width:8.0px;height:7.8px;line-height:7.8px;font-size:6px;font-weight:normal;color:#111;">-2-</div>
<div class="t" style="left:112.9px;top:65.6px;height:7px;line-height:7px;font-size:5.6px;color:#222;letter-spacing:0.75px;transform-origin:0 0;transform:scaleX(1.0)">Extreme Cuticle Remover</div>
<div class="t" style="left:84.1px;top:68.6px;height:30px;line-height:30px;font-size:23.7px;color:#0c0c0c;-webkit-text-stroke:1.1px #0c0c0c;transform-origin:0 0;transform:scaleX(0.94);letter-spacing:1.0px">LE PIED•AMI</div>
<div class="t" style="left:228px;top:70px;height:26px;line-height:26px;font-size:15px;font-family:&quot;Liberation Serif&quot;,serif;font-style:italic;color:#111;transform-origin:0 50%;transform:rotate(-10deg) skewX(-12deg) scaleX(1.22)">Purple</div>
<div class="t" style="left:80.5px;top:96.3px;width:205.5px;height:3.6px;line-height:3.6px;font-size:3.0px;font-weight:normal;color:#555;text-align:justify;text-align-last:justify;letter-spacing:-0.26px;">ULTRA SMOOTH ROLLER • REMOVES HARD SKIN • GENTLE ON FEET • WATERPROOF HEAD • EXTREME CUTICLE REMOVER • PURPLE EDITION • NEW</div>
<div class="t" style="left:78.5px;top:100.4px;width:207.5px;height:3.6px;line-height:3.6px;font-size:3.0px;font-weight:normal;color:#555;text-align:justify;text-align-last:justify;letter-spacing:-0.25px;">ELECTRIC FOOT FILE • CALLUS REMOVER • BATTERY OPERATED • WASHABLE ROLLER HEAD • FINE AND COARSE • LE PIED AMI • SMOOTH SKIN</div>
<div class="t" style="left:159.3px;top:104.8px;width:127.7px;height:9.1px;line-height:9.1px;font-size:7.0px;font-weight:normal;color:#111;text-align:justify;text-align-last:justify;-webkit-text-stroke:0.2px #111;letter-spacing:-0.98px;">電動角質リムーバー　ルピエ アミ パープル</div>
<div class="t" style="left:107.1px;top:119.2px;width:154.8px;height:22.1px;line-height:22.1px;font-size:17.0px;font-weight:normal;color:#111;text-align:justify;text-align-last:justify;-webkit-text-stroke:0.45px #111;letter-spacing:-0.22px;">取扱説明書／保証書</div>
<div class="t" style="left:214.8px;top:188.3px;width:35.9px;height:8.3px;line-height:8.3px;font-size:6.4px;font-weight:normal;color:#111;text-align:justify;text-align-last:justify;">CONTENTS</div>
<div class="t" style="left:186.3px;top:206.2px;width:55.7px;height:8.2px;line-height:8.2px;font-size:6.3px;font-weight:normal;color:#111;text-align:justify;text-align-last:justify;-webkit-text-stroke:0.18px #111;letter-spacing:-0.32px;">各部の名称・・・2P</div>
<div class="t" style="left:186.3px;top:217.8px;width:66.9px;height:8.2px;line-height:8.2px;font-size:6.3px;font-weight:normal;color:#111;text-align:justify;text-align-last:justify;-webkit-text-stroke:0.18px #111;letter-spacing:-0.38px;">使用上のご注意・・・3P</div>
<div class="t" style="left:186.3px;top:229.3px;width:66.9px;height:8.2px;line-height:8.2px;font-size:6.3px;font-weight:normal;color:#111;text-align:justify;text-align-last:justify;-webkit-text-stroke:0.18px #111;letter-spacing:-0.38px;">乾電池の入れ方・・・4P</div>
<div class="t" style="left:186.3px;top:240.9px;width:48.3px;height:8.2px;line-height:8.2px;font-size:6.3px;font-weight:normal;color:#111;text-align:justify;text-align-last:justify;-webkit-text-stroke:0.18px #111;letter-spacing:-0.47px;">使用方法・・・5P</div>
<div class="t" style="left:186.3px;top:252.5px;width:96.1px;height:8.2px;line-height:8.2px;font-size:6.3px;font-weight:normal;color:#111;text-align:justify;text-align-last:justify;-webkit-text-stroke:0.18px #111;letter-spacing:-0.41px;">ローラーヘッドの交換方法・・・6P</div>
<div class="t" style="left:186.3px;top:264.1px;width:60.7px;height:8.2px;line-height:8.2px;font-size:6.3px;font-weight:normal;color:#111;text-align:justify;text-align-last:justify;-webkit-text-stroke:0.18px #111;letter-spacing:-0.41px;">お手入れ方法・・・6P</div>
<div class="t" style="left:186.3px;top:275.6px;width:42.1px;height:8.2px;line-height:8.2px;font-size:6.3px;font-weight:normal;color:#111;text-align:justify;text-align-last:justify;-webkit-text-stroke:0.18px #111;letter-spacing:-0.52px;">保証書・・・7P</div>
<div class="t" style="left:115.1px;top:318.3px;width:128.8px;height:8.1px;line-height:8.1px;font-size:6.2px;font-weight:normal;color:#111;text-align:justify;text-align-last:justify;-webkit-text-stroke:0.18px #111;letter-spacing:-0.45px;">この度は、お買い上げありがとうございました。</div>
<div class="t" style="left:106.4px;top:325.6px;width:146.2px;height:8.1px;line-height:8.1px;font-size:6.2px;font-weight:normal;color:#111;text-align:justify;text-align-last:justify;-webkit-text-stroke:0.18px #111;letter-spacing:-0.22px;">ご使用前にこの取扱説明書をよくお読み頂き、正しく</div>
<div class="t" style="left:147.9px;top:332.9px;width:63.2px;height:8.1px;line-height:8.1px;font-size:6.2px;font-weight:normal;color:#111;text-align:justify;text-align-last:justify;-webkit-text-stroke:0.18px #111;letter-spacing:-0.56px;">安全にご使用ください。</div>
<div class="t" style="left:103.8px;top:340.3px;width:151.4px;height:8.1px;line-height:8.1px;font-size:6.2px;font-weight:normal;color:#111;text-align:justify;text-align-last:justify;-webkit-text-stroke:0.18px #111;letter-spacing:-0.25px;">保証書は「お買い上げ日、販売店名」など記入を確かめ</div>
<div class="t" style="left:119.8px;top:347.6px;width:119.4px;height:8.1px;line-height:8.1px;font-size:6.2px;font-weight:normal;color:#111;text-align:justify;text-align-last:justify;-webkit-text-stroke:0.18px #111;letter-spacing:-0.34px;">取扱説明書と共に大切に保管してください。</div>
<svg class="ov" width="1250" height="807" viewBox="0 0 1250 807">
<defs><clipPath id="f6"><rect x="384.3" y="631.1" width="54.2" height="65.3"/></clipPath><clipPath id="f8"><rect x="511.5" y="631.1" width="53.9" height="65.3"/></clipPath><clipPath id="f7"><rect x="447.3" y="631.1" width="55.1" height="65.3"/></clipPath><clipPath id="f9"><rect x="698.2" y="498.0" width="72.7" height="60.6"/></clipPath><clipPath id="f10"><rect x="781.4" y="498.0" width="72.5" height="60.6"/></clipPath><clipPath id="f11"><rect x="698.2" y="648.0" width="72.7" height="60.6"/></clipPath><clipPath id="f12"><rect x="781.4" y="648.0" width="72.5" height="60.6"/></clipPath></defs>
<line x1="63.5" y1="20.5" x2="63.5" y2="47.5" stroke="#8a8a8a" stroke-width="0.9"/>
<line x1="63.5" y1="364.0" x2="63.5" y2="391.0" stroke="#8a8a8a" stroke-width="0.9"/>
<line x1="70.3" y1="20.5" x2="70.3" y2="40.7" stroke="#8a8a8a" stroke-width="0.9"/>
<line x1="70.3" y1="370.8" x2="70.3" y2="391.0" stroke="#8a8a8a" stroke-width="0.9"/>
<line x1="43.3" y1="40.7" x2="70.3" y2="40.7" stroke="#9a9a9a" stroke-width="0.9"/>
<line x1="43.3" y1="370.8" x2="70.3" y2="370.8" stroke="#9a9a9a" stroke-width="0.9"/>
<line x1="43.3" y1="47.5" x2="63.5" y2="47.5" stroke="#d4d4d4" stroke-width="0.9"/>
<line x1="43.3" y1="364.0" x2="63.5" y2="364.0" stroke="#d4d4d4" stroke-width="0.9"/>
<line x1="296.0" y1="20.5" x2="296.0" y2="40.7" stroke="#e4e4e4" stroke-width="0.9"/>
<line x1="296.0" y1="370.8" x2="296.0" y2="391.0" stroke="#e4e4e4" stroke-width="0.9"/>
<line x1="302.8" y1="20.5" x2="302.8" y2="47.5" stroke="#8a8a8a" stroke-width="0.9"/>
<line x1="302.8" y1="364.0" x2="302.8" y2="391.0" stroke="#8a8a8a" stroke-width="0.9"/>
<line x1="296.0" y1="40.7" x2="323.0" y2="40.7" stroke="#9a9a9a" stroke-width="0.9"/>
<line x1="296.0" y1="370.8" x2="323.0" y2="370.8" stroke="#9a9a9a" stroke-width="0.9"/>
<line x1="302.8" y1="47.5" x2="323.0" y2="47.5" stroke="#d4d4d4" stroke-width="0.9"/>
<line x1="302.8" y1="364.0" x2="323.0" y2="364.0" stroke="#d4d4d4" stroke-width="0.9"/>
<line x1="154.7" y1="33.0" x2="211.7" y2="33.0" stroke="#555" stroke-width="0.8"/>
<line x1="154.7" y1="378.5" x2="211.7" y2="378.5" stroke="#555" stroke-width="0.8"/>
<line x1="54.5" y1="177.1" x2="54.5" y2="234.4" stroke="#555" stroke-width="0.9"/>
<line x1="310.4" y1="177.1" x2="310.4" y2="234.4" stroke="#555" stroke-width="0.9"/>
<line x1="357.6" y1="20.5" x2="357.6" y2="47.5" stroke="#8a8a8a" stroke-width="0.9"/>
<line x1="357.6" y1="364.0" x2="357.6" y2="391.0" stroke="#8a8a8a" stroke-width="0.9"/>
<line x1="364.4" y1="20.5" x2="364.4" y2="40.7" stroke="#e4e4e4" stroke-width="0.9"/>
<line x1="364.4" y1="370.8" x2="364.4" y2="391.0" stroke="#e4e4e4" stroke-width="0.9"/>
<line x1="337.4" y1="40.7" x2="364.4" y2="40.7" stroke="#9a9a9a" stroke-width="0.9"/>
<line x1="337.4" y1="370.8" x2="364.4" y2="370.8" stroke="#9a9a9a" stroke-width="0.9"/>
<line x1="337.4" y1="47.5" x2="357.6" y2="47.5" stroke="#d4d4d4" stroke-width="0.9"/>
<line x1="337.4" y1="364.0" x2="357.6" y2="364.0" stroke="#d4d4d4" stroke-width="0.9"/>
<line x1="590.5" y1="20.5" x2="590.5" y2="40.7" stroke="#8a8a8a" stroke-width="0.9"/>
<line x1="590.5" y1="370.8" x2="590.5" y2="391.0" stroke="#8a8a8a" stroke-width="0.9"/>
<line x1="597.3" y1="20.5" x2="597.3" y2="47.5" stroke="#8a8a8a" stroke-width="0.9"/>
<line x1="597.3" y1="364.0" x2="597.3" y2="391.0" stroke="#8a8a8a" stroke-width="0.9"/>
<line x1="590.5" y1="40.7" x2="617.5" y2="40.7" stroke="#9a9a9a" stroke-width="0.9"/>
<line x1="590.5" y1="370.8" x2="617.5" y2="370.8" stroke="#9a9a9a" stroke-width="0.9"/>
<line x1="597.3" y1="47.5" x2="617.5" y2="47.5" stroke="#d4d4d4" stroke-width="0.9"/>
<line x1="597.3" y1="364.0" x2="617.5" y2="364.0" stroke="#d4d4d4" stroke-width="0.9"/>
<line x1="448.9" y1="33.0" x2="505.9" y2="33.0" stroke="#555" stroke-width="0.8"/>
<line x1="448.9" y1="378.5" x2="505.9" y2="378.5" stroke="#555" stroke-width="0.8"/>
<line x1="348.6" y1="177.1" x2="348.6" y2="234.4" stroke="#555" stroke-width="0.9"/>
<line x1="604.9" y1="177.1" x2="604.9" y2="234.4" stroke="#555" stroke-width="0.9"/>
<line x1="630.7" y1="40.7" x2="657.7" y2="40.7" stroke="#9a9a9a" stroke-width="0.9"/>
<line x1="630.7" y1="370.8" x2="657.7" y2="370.8" stroke="#9a9a9a" stroke-width="0.9"/>
<line x1="630.7" y1="47.5" x2="650.9" y2="47.5" stroke="#d4d4d4" stroke-width="0.9"/>
<line x1="630.7" y1="364.0" x2="650.9" y2="364.0" stroke="#d4d4d4" stroke-width="0.9"/>
<line x1="884.4" y1="20.5" x2="884.4" y2="40.7" stroke="#8a8a8a" stroke-width="0.9"/>
<line x1="884.4" y1="370.8" x2="884.4" y2="391.0" stroke="#8a8a8a" stroke-width="0.9"/>
<line x1="884.4" y1="40.7" x2="911.4" y2="40.7" stroke="#9a9a9a" stroke-width="0.9"/>
<line x1="884.4" y1="370.8" x2="911.4" y2="370.8" stroke="#9a9a9a" stroke-width="0.9"/>
<line x1="891.2" y1="47.5" x2="911.4" y2="47.5" stroke="#d4d4d4" stroke-width="0.9"/>
<line x1="891.2" y1="364.0" x2="911.4" y2="364.0" stroke="#d4d4d4" stroke-width="0.9"/>
<line x1="742.5" y1="33.0" x2="799.5" y2="33.0" stroke="#555" stroke-width="0.8"/>
<line x1="742.5" y1="378.5" x2="799.5" y2="378.5" stroke="#555" stroke-width="0.8"/>
<line x1="771.0" y1="18.5" x2="771.0" y2="37.8" stroke="#777" stroke-width="0.8"/>
<line x1="771.0" y1="373.5" x2="771.0" y2="392.8" stroke="#777" stroke-width="0.8"/>
<line x1="641.9" y1="177.1" x2="641.9" y2="234.4" stroke="#999" stroke-width="0.9"/>
<line x1="63.5" y1="415.7" x2="63.5" y2="442.7" stroke="#8a8a8a" stroke-width="0.9"/>
<line x1="63.5" y1="759.2" x2="63.5" y2="786.2" stroke="#8a8a8a" stroke-width="0.9"/>
<line x1="70.3" y1="415.7" x2="70.3" y2="435.9" stroke="#8a8a8a" stroke-width="0.9"/>
<line x1="70.3" y1="766.0" x2="70.3" y2="786.2" stroke="#8a8a8a" stroke-width="0.9"/>
<line x1="43.3" y1="435.9" x2="70.3" y2="435.9" stroke="#9a9a9a" stroke-width="0.9"/>
<line x1="43.3" y1="766.0" x2="70.3" y2="766.0" stroke="#9a9a9a" stroke-width="0.9"/>
<line x1="43.3" y1="442.7" x2="63.5" y2="442.7" stroke="#d4d4d4" stroke-width="0.9"/>
<line x1="43.3" y1="759.2" x2="63.5" y2="759.2" stroke="#d4d4d4" stroke-width="0.9"/>
<line x1="296.0" y1="415.7" x2="296.0" y2="435.9" stroke="#e4e4e4" stroke-width="0.9"/>
<line x1="296.0" y1="766.0" x2="296.0" y2="786.2" stroke="#e4e4e4" stroke-width="0.9"/>
<line x1="302.8" y1="415.7" x2="302.8" y2="442.7" stroke="#8a8a8a" stroke-width="0.9"/>
<line x1="302.8" y1="759.2" x2="302.8" y2="786.2" stroke="#8a8a8a" stroke-width="0.9"/>
<line x1="296.0" y1="435.9" x2="323.0" y2="435.9" stroke="#9a9a9a" stroke-width="0.9"/>
<line x1="296.0" y1="766.0" x2="323.0" y2="766.0" stroke="#9a9a9a" stroke-width="0.9"/>
<line x1="302.8" y1="442.7" x2="323.0" y2="442.7" stroke="#d4d4d4" stroke-width="0.9"/>
<line x1="302.8" y1="759.2" x2="323.0" y2="759.2" stroke="#d4d4d4" stroke-width="0.9"/>
<line x1="154.7" y1="428.2" x2="211.7" y2="428.2" stroke="#555" stroke-width="0.8"/>
<line x1="154.7" y1="773.7" x2="211.7" y2="773.7" stroke="#555" stroke-width="0.8"/>
<line x1="54.5" y1="572.2" x2="54.5" y2="629.7" stroke="#555" stroke-width="0.9"/>
<line x1="310.4" y1="572.2" x2="310.4" y2="629.7" stroke="#555" stroke-width="0.9"/>
<line x1="357.6" y1="415.7" x2="357.6" y2="442.7" stroke="#8a8a8a" stroke-width="0.9"/>
<line x1="357.6" y1="759.2" x2="357.6" y2="786.2" stroke="#8a8a8a" stroke-width="0.9"/>
<line x1="364.4" y1="415.7" x2="364.4" y2="435.9" stroke="#e4e4e4" stroke-width="0.9"/>
<line x1="364.4" y1="766.0" x2="364.4" y2="786.2" stroke="#e4e4e4" stroke-width="0.9"/>
<line x1="337.4" y1="435.9" x2="364.4" y2="435.9" stroke="#9a9a9a" stroke-width="0.9"/>
<line x1="337.4" y1="766.0" x2="364.4" y2="766.0" stroke="#9a9a9a" stroke-width="0.9"/>
<line x1="337.4" y1="442.7" x2="357.6" y2="442.7" stroke="#d4d4d4" stroke-width="0.9"/>
<line x1="337.4" y1="759.2" x2="357.6" y2="759.2" stroke="#d4d4d4" stroke-width="0.9"/>
<line x1="590.5" y1="415.7" x2="590.5" y2="435.9" stroke="#8a8a8a" stroke-width="0.9"/>
<line x1="590.5" y1="766.0" x2="590.5" y2="786.2" stroke="#8a8a8a" stroke-width="0.9"/>
<line x1="597.3" y1="415.7" x2="597.3" y2="442.7" stroke="#8a8a8a" stroke-width="0.9"/>
<line x1="597.3" y1="759.2" x2="597.3" y2="786.2" stroke="#8a8a8a" stroke-width="0.9"/>
<line x1="590.5" y1="435.9" x2="617.5" y2="435.9" stroke="#9a9a9a" stroke-width="0.9"/>
<line x1="590.5" y1="766.0" x2="617.5" y2="766.0" stroke="#9a9a9a" stroke-width="0.9"/>
<line x1="597.3" y1="442.7" x2="617.5" y2="442.7" stroke="#d4d4d4" stroke-width="0.9"/>
<line x1="597.3" y1="759.2" x2="617.5" y2="759.2" stroke="#d4d4d4" stroke-width="0.9"/>
<line x1="448.9" y1="428.2" x2="505.9" y2="428.2" stroke="#555" stroke-width="0.8"/>
<line x1="448.9" y1="773.7" x2="505.9" y2="773.7" stroke="#555" stroke-width="0.8"/>
<line x1="348.6" y1="572.2" x2="348.6" y2="629.7" stroke="#555" stroke-width="0.9"/>
<line x1="604.9" y1="572.2" x2="604.9" y2="629.7" stroke="#555" stroke-width="0.9"/>
<line x1="630.7" y1="435.9" x2="657.7" y2="435.9" stroke="#9a9a9a" stroke-width="0.9"/>
<line x1="630.7" y1="766.0" x2="657.7" y2="766.0" stroke="#9a9a9a" stroke-width="0.9"/>
<line x1="630.7" y1="442.7" x2="650.9" y2="442.7" stroke="#d4d4d4" stroke-width="0.9"/>
<line x1="630.7" y1="759.2" x2="650.9" y2="759.2" stroke="#d4d4d4" stroke-width="0.9"/>
<line x1="884.4" y1="415.7" x2="884.4" y2="435.9" stroke="#8a8a8a" stroke-width="0.9"/>
<line x1="884.4" y1="766.0" x2="884.4" y2="786.2" stroke="#8a8a8a" stroke-width="0.9"/>
<line x1="884.4" y1="435.9" x2="911.4" y2="435.9" stroke="#9a9a9a" stroke-width="0.9"/>
<line x1="884.4" y1="766.0" x2="911.4" y2="766.0" stroke="#9a9a9a" stroke-width="0.9"/>
<line x1="891.2" y1="442.7" x2="911.4" y2="442.7" stroke="#d4d4d4" stroke-width="0.9"/>
<line x1="891.2" y1="759.2" x2="911.4" y2="759.2" stroke="#d4d4d4" stroke-width="0.9"/>
<line x1="742.5" y1="428.2" x2="799.5" y2="428.2" stroke="#555" stroke-width="0.8"/>
<line x1="742.5" y1="773.7" x2="799.5" y2="773.7" stroke="#555" stroke-width="0.8"/>
<line x1="771.0" y1="413.7" x2="771.0" y2="433.0" stroke="#777" stroke-width="0.8"/>
<line x1="771.0" y1="768.7" x2="771.0" y2="788.0" stroke="#777" stroke-width="0.8"/>
<line x1="641.9" y1="572.2" x2="641.9" y2="629.7" stroke="#aaa" stroke-width="0.9"/>
<line x1="948.5" y1="415.7" x2="948.5" y2="442.7" stroke="#e4e4e4" stroke-width="0.9"/>
<line x1="948.5" y1="759.2" x2="948.5" y2="786.2" stroke="#e4e4e4" stroke-width="0.9"/>
<line x1="955.3" y1="415.7" x2="955.3" y2="435.9" stroke="#e4e4e4" stroke-width="0.9"/>
<line x1="955.3" y1="766.0" x2="955.3" y2="786.2" stroke="#e4e4e4" stroke-width="0.9"/>
<line x1="928.3" y1="435.9" x2="955.3" y2="435.9" stroke="#9a9a9a" stroke-width="0.9"/>
<line x1="928.3" y1="766.0" x2="955.3" y2="766.0" stroke="#9a9a9a" stroke-width="0.9"/>
<line x1="928.3" y1="442.7" x2="948.5" y2="442.7" stroke="#d4d4d4" stroke-width="0.9"/>
<line x1="928.3" y1="759.2" x2="948.5" y2="759.2" stroke="#d4d4d4" stroke-width="0.9"/>
<line x1="1181.5" y1="415.7" x2="1181.5" y2="435.9" stroke="#8a8a8a" stroke-width="0.9"/>
<line x1="1181.5" y1="766.0" x2="1181.5" y2="786.2" stroke="#8a8a8a" stroke-width="0.9"/>
<line x1="1188.3" y1="415.7" x2="1188.3" y2="442.7" stroke="#8a8a8a" stroke-width="0.9"/>
<line x1="1188.3" y1="759.2" x2="1188.3" y2="786.2" stroke="#8a8a8a" stroke-width="0.9"/>
<line x1="1181.5" y1="435.9" x2="1208.5" y2="435.9" stroke="#9a9a9a" stroke-width="0.9"/>
<line x1="1181.5" y1="766.0" x2="1208.5" y2="766.0" stroke="#9a9a9a" stroke-width="0.9"/>
<line x1="1188.3" y1="442.7" x2="1208.5" y2="442.7" stroke="#d4d4d4" stroke-width="0.9"/>
<line x1="1188.3" y1="759.2" x2="1208.5" y2="759.2" stroke="#d4d4d4" stroke-width="0.9"/>
<line x1="1039.9" y1="428.2" x2="1096.9" y2="428.2" stroke="#555" stroke-width="0.8"/>
<line x1="1039.9" y1="773.7" x2="1096.9" y2="773.7" stroke="#555" stroke-width="0.8"/>
<line x1="1068.4" y1="413.7" x2="1068.4" y2="433.0" stroke="#777" stroke-width="0.8"/>
<line x1="1068.4" y1="768.7" x2="1068.4" y2="788.0" stroke="#777" stroke-width="0.8"/>
<line x1="939.5" y1="572.2" x2="939.5" y2="629.7" stroke="#ccc" stroke-width="0.9"/>
<line x1="1195.9" y1="572.2" x2="1195.9" y2="629.7" stroke="#ccc" stroke-width="0.9"/>
<rect x="662.9" y="85.8" width="217.7" height="249.9" rx="0" fill="none" stroke="#1a1a1a" stroke-width="1.3" />
<line x1="662.9" y1="108.1" x2="880.6" y2="108.1" stroke="#222" stroke-width="1.15"/>
<line x1="686.7" y1="108.1" x2="686.7" y2="335.7" stroke="#222" stroke-width="1.15"/>
<line x1="711.3" y1="108.1" x2="711.3" y2="335.7" stroke="#222" stroke-width="1.15"/>
<line x1="662.9" y1="179.1" x2="880.6" y2="179.1" stroke="#222" stroke-width="1.15"/>
<line x1="686.7" y1="257.4" x2="880.6" y2="257.4" stroke="#222" stroke-width="1.15"/>
<rect x="961.3" y="446.8" width="213.4" height="130.8" rx="0" fill="none" stroke="#111" stroke-width="1.7" />
<line x1="961.3" y1="463.5" x2="1174.7" y2="463.5" stroke="#222" stroke-width="1.3"/>
<line x1="961.3" y1="480.3" x2="1174.7" y2="480.3" stroke="#222" stroke-width="1.3"/>
<line x1="961.3" y1="496.3" x2="1174.7" y2="496.3" stroke="#222" stroke-width="1.3"/>
<line x1="961.3" y1="513.2" x2="1174.7" y2="513.2" stroke="#222" stroke-width="1.3"/>
<line x1="1005.6" y1="463.5" x2="1005.6" y2="577.6" stroke="#222" stroke-width="1.3"/>
<line x1="965.8" y1="718.0" x2="1167.4" y2="718.0" stroke="#aaa" stroke-width="1.5"/>
<path transform="translate(75.6,476.1) scale(1.000)" d="M2.6,2.2 L5.2,0.2 L5.2,11.5" fill="none" stroke="#111" stroke-width="1.25" stroke-linejoin="miter" stroke-linecap="butt"/>
<path transform="translate(75.6,498.5) scale(0.965)" d="M0.9,3.2 Q1.0,0.2 4.6,0.2 Q8.4,0.3 8.4,3.2 Q8.4,5.3 5.2,7.2 L0.8,10.9 L9.2,10.9" fill="none" stroke="#111" stroke-width="1.30" stroke-linejoin="miter" stroke-linecap="butt"/>
<path transform="translate(75.6,520.8) scale(0.948)" d="M1.0,2.2 Q2.2,0.2 4.8,0.2 Q8.4,0.3 8.4,3.0 Q8.3,5.5 4.6,5.6 Q8.8,5.8 8.8,8.4 Q8.7,11.4 4.8,11.4 Q1.6,11.4 0.6,9.2" fill="none" stroke="#111" stroke-width="1.32" stroke-linejoin="miter" stroke-linecap="butt"/>
<path transform="translate(75.6,543.7) scale(0.965)" d="M7.0,11.5 L7.0,0.2 L0.5,8.2 L9.6,8.2" fill="none" stroke="#111" stroke-width="1.30" stroke-linejoin="miter" stroke-linecap="butt"/>
<path d="M74,739.3 L74,653.8 Q74,647.8 80,647.8 L287.6,647.8 Q293.6,647.8 293.6,653.8 L293.6,739.3 Q293.6,745.3 287.6,745.3 L80,745.3 Q74,745.3 74,739.3 Z" fill="none" stroke="#111" stroke-width="1.3"/>
<path d="M129.8,653.5 L136.1,664.5 L123.6,664.5 Z" fill="#fff"/>
<path d="M128.9,657.0 L130.8,657.0 L130.3,661.2 L129.3,661.2 Z" fill="#0a0606"/>
<circle cx="129.8" cy="662.6" r="0.9" fill="#0a0606"/>
<path transform="translate(375.5,514.9) scale(0.939)" d="M2.6,2.2 L5.2,0.2 L5.2,11.5" fill="none" stroke="#111" stroke-width="1.33" stroke-linejoin="miter" stroke-linecap="butt"/>
<path transform="translate(375.5,552.3) scale(0.870)" d="M0.9,3.2 Q1.0,0.2 4.6,0.2 Q8.4,0.3 8.4,3.2 Q8.4,5.3 5.2,7.2 L0.8,10.9 L9.2,10.9" fill="none" stroke="#111" stroke-width="1.44" stroke-linejoin="miter" stroke-linecap="butt"/>
<path transform="translate(375.5,578.3) scale(0.904)" d="M1.0,2.2 Q2.2,0.2 4.8,0.2 Q8.4,0.3 8.4,3.0 Q8.3,5.5 4.6,5.6 Q8.8,5.8 8.8,8.4 Q8.7,11.4 4.8,11.4 Q1.6,11.4 0.6,9.2" fill="none" stroke="#111" stroke-width="1.38" stroke-linejoin="miter" stroke-linecap="butt"/>
<path transform="translate(374.3,603.6) scale(0.974)" d="M7.0,11.5 L7.0,0.2 L0.5,8.2 L9.6,8.2" fill="none" stroke="#111" stroke-width="1.28" stroke-linejoin="miter" stroke-linecap="butt"/>
<rect x="366.4" y="700.8" width="220.3" height="35.2" rx="8" fill="none" stroke="#333" stroke-width="1.2"/>
<line x1="404.4" y1="700.8" x2="404.4" y2="736.0" stroke="#333" stroke-width="1.1"/>
<path d="M376.8,711.1 L382.8,721.5 L370.7,721.5 Z" fill="none" stroke="#333" stroke-width="0.9" stroke-linejoin="round"/>
<path d="M375.9,714.4 L377.6,714.4 L377.2,718.4 L376.2,718.4 Z" fill="#333"/>
<circle cx="376.8" cy="719.7" r="0.9" fill="#333"/>
<path transform="translate(679.5,476.4) scale(0.957)" d="M2.6,2.2 L5.2,0.2 L5.2,11.5" fill="none" stroke="#111" stroke-width="1.31" stroke-linejoin="miter" stroke-linecap="butt"/>
<path transform="translate(678.0,556.5) scale(0.870)" d="M0.9,3.2 Q1.0,0.2 4.6,0.2 Q8.4,0.3 8.4,3.2 Q8.4,5.3 5.2,7.2 L0.8,10.9 L9.2,10.9" fill="none" stroke="#111" stroke-width="1.44" stroke-linejoin="miter" stroke-linecap="butt"/>
<path transform="translate(679.7,607.3) scale(0.974)" d="M2.6,2.2 L5.2,0.2 L5.2,11.5" fill="none" stroke="#111" stroke-width="1.28" stroke-linejoin="miter" stroke-linecap="butt"/>
<path transform="translate(677.7,631.6) scale(0.974)" d="M0.9,3.2 Q1.0,0.2 4.6,0.2 Q8.4,0.3 8.4,3.2 Q8.4,5.3 5.2,7.2 L0.8,10.9 L9.2,10.9" fill="none" stroke="#111" stroke-width="1.28" stroke-linejoin="miter" stroke-linecap="butt"/>
<rect x="672.2" y="723.3" width="187.1" height="27.8" rx="8" fill="none" stroke="#333" stroke-width="1.2"/>
<line x1="710.6" y1="723.3" x2="710.6" y2="751.1" stroke="#333" stroke-width="1.1"/>
<path d="M680.8,731.5 L686.5,741.5 L675.0,741.5 Z" fill="none" stroke="#333" stroke-width="0.9" stroke-linejoin="round"/>
<path d="M679.9,734.7 L681.6,734.7 L681.2,738.5 L680.2,738.5 Z" fill="#333"/>
<circle cx="680.8" cy="739.8" r="0.9" fill="#333"/>
<path d="M460.4,79.3 L509.7,79.3 L509.7,105.5 Q509.7,108.7 506.5,108.7 L463.6,108.7 Q460.4,108.7 460.4,105.5 Z" fill="none" stroke="#111" stroke-width="1.3" stroke-linejoin="round" stroke-linecap="round" />
<path d="M467.6,79.6 L467.6,84.8 Q468.7,86.2 469.8,84.8 L469.8,79.6" fill="none" stroke="#111" stroke-width="0.9" stroke-linejoin="round" stroke-linecap="round" />
<path d="M475.4,79.6 L475.4,84.8 Q476.5,86.2 477.6,84.8 L477.6,79.6" fill="none" stroke="#111" stroke-width="0.9" stroke-linejoin="round" stroke-linecap="round" />
<path d="M483.4,79.6 L483.4,84.8 Q484.5,86.2 485.6,84.8 L485.6,79.6" fill="none" stroke="#111" stroke-width="0.9" stroke-linejoin="round" stroke-linecap="round" />
<path d="M491.7,79.6 L491.7,84.8 Q492.8,86.2 493.9,84.8 L493.9,79.6" fill="none" stroke="#111" stroke-width="0.9" stroke-linejoin="round" stroke-linecap="round" />
<path d="M500.0,79.6 L500.0,84.8 Q501.1,86.2 502.2,84.8 L502.2,79.6" fill="none" stroke="#111" stroke-width="0.9" stroke-linejoin="round" stroke-linecap="round" />
<path d="M475.5,108.5 L476.5,106.3 L491.2,106.3 L492.2,108.5" fill="none" stroke="#111" stroke-width="0.8" stroke-linejoin="round" stroke-linecap="round" />
<circle cx="491.5" cy="94.3" r="2.1" fill="#111"/>
<line x1="491.5" y1="94.3" x2="523.5" y2="94.3" stroke="#111" stroke-width="1.1"/>
<path d="M460.2,117.4 Q452,116 446,124 Q441.5,131 443.5,135.5 Q446,139.5 460.2,139.8 Z" fill="none" stroke="#111" stroke-width="1.1" stroke-linejoin="round" stroke-linecap="round" />
<path d="M507.3,117.4 Q515.5,116 521.5,124 Q526,131 524,135.5 Q521.5,139.5 507.3,139.8 Z" fill="none" stroke="#111" stroke-width="1.1" stroke-linejoin="round" stroke-linecap="round" />
<path d="M460.2,117.4 L507.3,117.4 L507.3,140.1 L460.2,140.1 Z" fill="none" stroke="#111" stroke-width="1.4" stroke-linejoin="round" stroke-linecap="round" />
<path d="M453.1,140.1 L515.8,140.1 L515.8,146.5 L453.1,146.5 Z" fill="none" stroke="#111" stroke-width="1.0" stroke-linejoin="round" stroke-linecap="round" />
<path d="M456.3,140.1 L456.3,146.5 M512.6,140.1 L512.6,146.5" fill="none" stroke="#111" stroke-width="0.7" stroke-linejoin="round" stroke-linecap="round" />
<path d="M465.2,146.5 L465.2,150.3 Q467.2,152.2 469.2,150.3 L469.2,146.5" fill="none" stroke="#111" stroke-width="0.9" stroke-linejoin="round" stroke-linecap="round" />
<path d="M500.4,146.5 L500.4,150.3 Q502.4,152.2 504.4,150.3 L504.4,146.5" fill="none" stroke="#111" stroke-width="0.9" stroke-linejoin="round" stroke-linecap="round" />
<circle cx="465.3" cy="130.2" r="2.1" fill="#111"/>
<line x1="433.0" y1="130.2" x2="465.3" y2="130.2" stroke="#111" stroke-width="1.1"/>
<path d="M443.3,163 Q443,154.8 460,154.6 L508,154.6 Q524.5,154.8 524.3,163 Q524.3,168.5 512,168.5 L456,168.5 Q443.3,168.5 443.3,163 Z" fill="none" stroke="#111" stroke-width="1.1" stroke-linejoin="round" stroke-linecap="round" />
<path d="M452,158.2 L516,158.2 M455,158.2 L455,165.5 L513,165.5 L513,158.2" fill="none" stroke="#111" stroke-width="0.9" stroke-linejoin="round" stroke-linecap="round" />
<path d="M458,157 L458,167 M510,157 L510,167 M462,162 L506,162" fill="none" stroke="#555" stroke-width="0.6" stroke-linejoin="round" stroke-linecap="round" />
<path d="M443.3,163 Q441.5,185 446,196 Q449,202 460,203.2 Q484,204.5 508,203.2 Q519,202 522,196 Q526.5,185 524.3,163" fill="none" stroke="#111" stroke-width="1.1" stroke-linejoin="round" stroke-linecap="round" />
<path d="M443.8,171 L484,190.2 L523.8,171" fill="none" stroke="#111" stroke-width="1.0" stroke-linejoin="round" stroke-linecap="round" />
<path d="M446,176 L484,193.5 L521.5,176" fill="none" stroke="#444" stroke-width="0.7" stroke-linejoin="round" stroke-linecap="round" />
<path d="M446,196 Q449,210 456,222 Q459,232 456.6,245 Q452,262 450.3,290 Q451,315 463.7,335 Q472,347 481,349.5 Q490,347 498.3,335 Q511,315 513.2,290 Q512,262 511.3,245 Q508.6,232 511.5,222 Q518,210 522,196" fill="none" stroke="#111" stroke-width="1.1" stroke-linejoin="round" stroke-linecap="round" />
<path d="M452.5,200 Q455,212 460.7,230 Q459,248 456.6,260 L451.5,279" fill="none" stroke="#111" stroke-width="0.9" stroke-linejoin="round" stroke-linecap="round" />
<path d="M515.5,200 Q512.5,212 508.4,230 Q506.5,248 510,260 L512.5,279" fill="none" stroke="#111" stroke-width="0.9" stroke-linejoin="round" stroke-linecap="round" />
<path d="M460.7,203.5 L465.4,212.5 M506.3,203 L500.9,212.5" fill="none" stroke="#111" stroke-width="1.0" stroke-linejoin="round" stroke-linecap="round" />
<path d="M465,210.8 Q483,208.5 501,210.8" fill="none" stroke="#111" stroke-width="0.9" stroke-linejoin="round" stroke-linecap="round" />
<path d="M459.3,219 Q459.5,213.9 466,213.9 L500,213.9 Q507,213.9 507,219 L509,232" fill="none" stroke="#111" stroke-width="1.0" stroke-linejoin="round" stroke-linecap="round" />
<path d="M459.3,219 L457,232" fill="none" stroke="#111" stroke-width="1.0" stroke-linejoin="round" stroke-linecap="round" />
<path d="M450.4,284.7 Q481,291 513.2,284.7" fill="none" stroke="#111" stroke-width="1.0" stroke-linejoin="round" stroke-linecap="round" />
<path d="M457,321 Q481,327 506,321" fill="none" stroke="#111" stroke-width="1.0" stroke-linejoin="round" stroke-linecap="round" />
<path d="M471.6,223.4 Q474,216.6 481.8,216.6 Q490,216.6 493.4,229.5 Q491,246 482.5,252.7 Q473,247 472,235 Z" fill="none" stroke="#444" stroke-width="0.7" stroke-linejoin="round" stroke-linecap="round" stroke-dasharray="1.6,1.2"/>
<path d="M474,224 Q481.5,219.5 490,224" fill="none" stroke="#444" stroke-width="0.6" stroke-linejoin="round" stroke-linecap="round" stroke-dasharray="1.4,1.2"/>
<circle cx="485.2" cy="223.4" r="2.1" fill="#111"/>
<line x1="485.2" y1="223.4" x2="517.4" y2="223.4" stroke="#111" stroke-width="1.1"/>
<circle cx="480.4" cy="245.9" r="2.1" fill="#111"/>
<line x1="447.4" y1="245.9" x2="480.4" y2="245.9" stroke="#111" stroke-width="1.1"/>
<circle cx="528.6" cy="168.8" r="2.1" fill="#111"/>
<path d="M528.6,168.8 L548.2,168.8 L548.2,180.3" fill="none" stroke="#111" stroke-width="1.0" stroke-linejoin="round" stroke-linecap="round" />
<circle cx="485.8" cy="309.5" r="2.1" fill="#111"/>
<line x1="485.8" y1="309.5" x2="517.4" y2="309.5" stroke="#111" stroke-width="1.1"/>
<circle cx="478.1" cy="335.1" r="2.1" fill="#111"/>
<line x1="446.4" y1="335.1" x2="478.1" y2="335.1" stroke="#111" stroke-width="1.1"/>
<path d="M546,266 Q542.5,262 542.5,252 Q543,242 554,241.8 Q565,242 565.5,252 Q565.5,262 562,266 Z" fill="none" stroke="#111" stroke-width="1.1" stroke-linejoin="round" stroke-linecap="round" />
<path d="M554,245.5 Q550.5,248 550.5,253 Q551,258 554,259.5 Q557,258 557.5,253 Q557.5,248 554,245.5 Z" fill="none" stroke="#111" stroke-width="0.9" stroke-linejoin="round" stroke-linecap="round" />
<rect x="542.3" y="267.5" width="22.4" height="13.2" fill="#151515"/>
<path d="M545,268 L545,280 M548,268 L548,280 M551,268 L551,280 M554,268 L554,280 M557,268 L557,280 M560,268 L560,280" fill="none" stroke="#666" stroke-width="0.4" stroke-linejoin="round" stroke-linecap="round" />
<line x1="229.0" y1="90.5" x2="279.0" y2="81.5" stroke="#333" stroke-width="0.7"/>
<line x1="85.3" y1="141.3" x2="285.0" y2="141.3" stroke="#333" stroke-width="1.0"/>
<rect x="98.4" y="561.4" width="52.4" height="39.0" fill="none" stroke="#111" stroke-width="1.4"/>
<rect x="153.5" y="561.4" width="52.1" height="39.0" fill="none" stroke="#111" stroke-width="1.4"/>
<rect x="208.6" y="561.4" width="52.3" height="39.0" fill="none" stroke="#111" stroke-width="1.4"/>
<rect x="126.3" y="605.3" width="52.3" height="39.1" fill="none" stroke="#111" stroke-width="1.4"/>
<rect x="181.4" y="605.3" width="52.3" height="39.1" fill="none" stroke="#111" stroke-width="1.4"/>
<path d="M105.2,562.0 Q104.7,576.6 106.2,584.0 Q112.0,593.3 117.8,584.0 Q119.3,576.6 118.8,562.0" fill="none" stroke="#444" stroke-width="0.7" stroke-dasharray="1.3,1.1"/><path d="M106.2,562.0 L107.2,570.8 M117.8,562.0 L116.8,570.8" stroke="#555" stroke-width="0.6" fill="none"/><ellipse cx="112.0" cy="568.5" rx="2.8" ry="4.3" fill="#6b6262"/><path d="M106.2,575.2 Q112.0,576.6 117.8,575.2" fill="none" stroke="#777" stroke-width="0.5" stroke-dasharray="1.3,1.1"/><path d="M129.7,562.0 Q129.2,576.6 130.7,584.0 Q136.5,593.3 142.3,584.0 Q143.8,576.6 143.3,562.0" fill="none" stroke="#444" stroke-width="0.7" stroke-dasharray="1.3,1.1"/><path d="M130.7,562.0 L131.7,570.8 M142.3,562.0 L141.3,570.8" stroke="#555" stroke-width="0.6" fill="none"/><ellipse cx="136.5" cy="568.5" rx="2.8" ry="4.3" fill="#6b6262"/><path d="M130.7,575.2 Q136.5,576.6 142.3,575.2" fill="none" stroke="#777" stroke-width="0.5" stroke-dasharray="1.3,1.1"/>
<path d="M106,587 Q106,592 112,592.5" fill="none" stroke="#111" stroke-width="1"/><path d="M107.0,591.0 L105.8,589.0" stroke="#111" stroke-width="1.0" fill="none"/><path d="M104.5,587.0 L107.1,588.5 L104.7,590.0 Z" fill="#111"/>
<path d="M128.0,584.0 L128.0,592.4" stroke="#111" stroke-width="1.0" fill="none"/><path d="M128.0,595.0 L126.5,592.2 L129.5,592.2 Z" fill="#111"/>
<path d="M188.2,606.0 Q187.7,620.6 189.2,628.0 Q195.0,637.3 200.8,628.0 Q202.3,620.6 201.8,606.0" fill="none" stroke="#444" stroke-width="0.7" stroke-dasharray="1.3,1.1"/><path d="M189.2,606.0 L190.2,614.8 M200.8,606.0 L199.8,614.8" stroke="#555" stroke-width="0.6" fill="none"/><ellipse cx="195.0" cy="612.5" rx="2.8" ry="4.3" fill="#6b6262"/><path d="M189.2,619.2 Q195.0,620.6 200.8,619.2" fill="none" stroke="#777" stroke-width="0.5" stroke-dasharray="1.3,1.1"/><path d="M212.6,606.0 Q212.1,620.6 213.6,628.0 Q219.4,637.3 225.2,628.0 Q226.7,620.6 226.2,606.0" fill="none" stroke="#444" stroke-width="0.7" stroke-dasharray="1.3,1.1"/><path d="M213.6,606.0 L214.6,614.8 M225.2,606.0 L224.2,614.8" stroke="#555" stroke-width="0.6" fill="none"/><ellipse cx="219.4" cy="612.5" rx="2.8" ry="4.3" fill="#6b6262"/><path d="M213.6,619.2 Q219.4,620.6 225.2,619.2" fill="none" stroke="#777" stroke-width="0.5" stroke-dasharray="1.3,1.1"/>
<path d="M187.5,640.0 L187.5,633.1" stroke="#111" stroke-width="1.0" fill="none"/><path d="M187.5,630.5 L189.0,633.3 L186.0,633.3 Z" fill="#111"/><path d="M195.6,633.5 L200.4,633.5" stroke="#111" stroke-width="1.0" fill="none"/><path d="M203.0,633.5 L200.2,635.0 L200.2,632.0 Z" fill="#111"/>
<path d="M159.0,569.0 L166.0,565.5 L182.0,572.0 L182.0,579.0 L176.0,582.0 L160.0,576.0 Z" fill="none" stroke="#444" stroke-width="0.7" stroke-dasharray="1.3,1.1"/><path d="M170.0,574.0 L180.0,577.0 M171.0,571.0 L179.0,574.0 L178.0,579.0" fill="none" stroke="#333" stroke-width="0.8"/><path d="M185.0,578.0 Q188.0,569.0 194.0,570.0 Q200.0,573.0 200.0,581.0 Q196.0,586.0 189.0,585.0 Q184.0,583.0 185.0,578.0 Z" fill="none" stroke="#444" stroke-width="0.7" stroke-dasharray="1.3,1.1"/><path d="M194.0,575.0 L193.0,582.0 M191.0,583.0 L195.0,583.0" stroke="#555" stroke-width="0.5" fill="none"/>
<path d="M171.2,582.5 L180.8,587.1" stroke="#111" stroke-width="1.8" fill="none"/><path d="M184.0,588.6 L179.5,588.8 L181.4,585.0 Z" fill="#111"/>
<path d="M132.0,613.0 L139.0,609.5 L155.0,616.0 L155.0,623.0 L149.0,626.0 L133.0,620.0 Z" fill="none" stroke="#444" stroke-width="0.7" stroke-dasharray="1.3,1.1"/><path d="M143.0,618.0 L153.0,621.0 M144.0,615.0 L152.0,618.0 L151.0,623.0" fill="none" stroke="#333" stroke-width="0.8"/><path d="M158.0,622.0 Q161.0,613.0 167.0,614.0 Q173.0,617.0 173.0,625.0 Q169.0,630.0 162.0,629.0 Q157.0,627.0 158.0,622.0 Z" fill="none" stroke="#444" stroke-width="0.7" stroke-dasharray="1.3,1.1"/><path d="M167.0,619.0 L166.0,626.0 M164.0,627.0 L168.0,627.0" stroke="#555" stroke-width="0.5" fill="none"/>
<path d="M154.8,632.8 L145.8,628.3" stroke="#111" stroke-width="1.8" fill="none"/><path d="M142.6,626.7 L147.1,626.5 L145.2,630.4 Z" fill="#111"/>
<path d="M228,562 Q228,575 230,578 L230,598 L240,598 L240,578 Q242,575 242,562" fill="none" stroke="#444" stroke-width="0.7" stroke-dasharray="1.3,1.1"/><path d="M226,562 L228,572 M244,562 L242,572" stroke="#444" stroke-width="0.6" fill="none"/><ellipse cx="235" cy="571" rx="2.8" ry="4.3" fill="#6b6262"/><path d="M232,583 L232,598 M238,583 L238,598 M229,580 Q235,578 241,580" stroke="#555" stroke-width="0.6" fill="none"/><path d="M224.0,596.0 L224.0,587.6" stroke="#111" stroke-width="1.0" fill="none"/><path d="M224.0,585.0 L225.5,587.8 L222.5,587.8 Z" fill="#111"/><path d="M246.0,584.0 L246.0,592.4" stroke="#111" stroke-width="1.0" fill="none"/><path d="M246.0,595.0 L244.5,592.2 L247.5,592.2 Z" fill="#111"/>
<line x1="384.3" y1="631.1" x2="384.3" y2="696.4" stroke="#999" stroke-width="0.9"/>
<line x1="384.3" y1="696.4" x2="438.5" y2="696.4" stroke="#bbb" stroke-width="0.9"/>
<line x1="438.5" y1="631.1" x2="438.5" y2="696.4" stroke="#222" stroke-width="1.2"/>
<line x1="447.3" y1="631.1" x2="502.4" y2="631.1" stroke="#222" stroke-width="1.2"/>
<line x1="447.3" y1="631.1" x2="447.3" y2="696.4" stroke="#222" stroke-width="1.2"/>
<line x1="502.4" y1="631.1" x2="502.4" y2="696.4" stroke="#bbb" stroke-width="0.9"/>
<line x1="447.3" y1="696.4" x2="502.4" y2="696.4" stroke="#bbb" stroke-width="0.9"/>
<line x1="511.5" y1="631.1" x2="511.5" y2="696.4" stroke="#999" stroke-width="0.9"/>
<line x1="511.5" y1="696.4" x2="565.4" y2="696.4" stroke="#bbb" stroke-width="0.9"/>
<line x1="565.4" y1="631.1" x2="565.4" y2="696.4" stroke="#aaa" stroke-width="1.2"/>
<g clip-path="url(#f6)"><path d="M396.7,650.8 Q401.6,647.2 408.8,644.5 Q413.2,646.8 414.1,651.2 L413.2,655.2 Q407.0,657.5 401.2,657.9 Q397.2,656.6 396.7,650.8 Z" fill="#fff" stroke="#111" stroke-width="0.9"/><path d="M399.0,649.0 L410.6,645.4 L412.8,650.8 L400.8,654.8 Z" fill="#6b6262"/><path d="M398.5,656.6 Q403.4,663.7 408.8,672.6 L411.9,678.9 M413.2,655.2 Q414.6,658.4 415.0,661.5" fill="none" stroke="#111" stroke-width="0.9"/><path d="M400.3,660.6 Q405.2,667.3 409.9,674.9" fill="none" stroke="#6b6262" stroke-width="2.3"/><path d="M410.6,662.4 Q419.5,662.8 426.6,665.5 Q433.8,670.0 437.8,678.9" fill="none" stroke="#111" stroke-width="0.8"/><path d="M411.5,665.5 Q414.1,670.0 419.5,670.9 Q423.1,674.4 422.6,681.6 Q424.0,686.0 432.0,688.7" fill="none" stroke="#111" stroke-width="0.8"/><ellipse cx="407.0" cy="674.9" rx="1.8" ry="1.6" fill="#fff" stroke="#111" stroke-width="0.7"/><ellipse cx="410.6" cy="681.6" rx="1.8" ry="1.7" fill="#fff" stroke="#111" stroke-width="0.7"/><ellipse cx="415.5" cy="686.9" rx="1.9" ry="1.7" fill="#fff" stroke="#111" stroke-width="0.7"/><path d="M418.6,688.7 L426.6,696.8 M412.4,674.4 Q417.7,675.3 421.3,674.4 M414.1,682.5 Q417.7,683.4 422.2,682.5" fill="none" stroke="#111" stroke-width="0.7"/><path d="M430.2,650.3 L422.6,655.4" stroke="#111" stroke-width="1.9" fill="none"/><path d="M419.5,657.5 L421.6,653.4 L424.1,657.1 Z" fill="#111"/><path d="M400.8,676.2 L394.8,667.6" stroke="#111" stroke-width="1.9" fill="none"/><path d="M392.7,664.6 L396.8,666.6 L393.2,669.2 Z" fill="#111"/></g>
<g clip-path="url(#f8)"><path d="M523.7,648.8 Q528.6,645.2 535.8,642.5 Q540.2,644.8 541.1,649.2 L540.2,653.2 Q534.0,655.5 528.2,655.9 Q524.2,654.6 523.7,648.8 Z" fill="#fff" stroke="#111" stroke-width="0.9"/><path d="M526.0,647.0 L537.6,643.4 L539.8,648.8 L527.8,652.8 Z" fill="#6b6262"/><path d="M525.5,654.6 Q530.4,661.7 535.8,670.6 L538.9,676.9 M540.2,653.2 Q541.6,656.4 542.0,659.5" fill="none" stroke="#111" stroke-width="0.9"/><path d="M527.3,658.6 Q532.2,665.3 536.9,672.9" fill="none" stroke="#6b6262" stroke-width="2.3"/><path d="M537.6,660.4 Q546.5,660.8 553.6,663.5 Q560.8,668.0 564.8,676.9" fill="none" stroke="#111" stroke-width="0.8"/><path d="M538.5,663.5 Q541.1,668.0 546.5,668.9 Q550.1,672.4 549.6,679.6 Q551.0,684.0 559.0,686.7" fill="none" stroke="#111" stroke-width="0.8"/><ellipse cx="534.0" cy="672.9" rx="1.8" ry="1.6" fill="#fff" stroke="#111" stroke-width="0.7"/><ellipse cx="537.6" cy="679.6" rx="1.8" ry="1.7" fill="#fff" stroke="#111" stroke-width="0.7"/><ellipse cx="542.5" cy="684.9" rx="1.9" ry="1.7" fill="#fff" stroke="#111" stroke-width="0.7"/><path d="M545.6,686.7 L553.6,694.8 M539.4,672.4 Q544.7,673.3 548.3,672.4 M541.1,680.5 Q544.7,681.4 549.2,680.5" fill="none" stroke="#111" stroke-width="0.7"/><path d="M518.8,663.7 L524.8,672.3" stroke="#111" stroke-width="1.9" fill="none"/><path d="M526.9,675.3 L522.8,673.3 L526.4,670.7 Z" fill="#111"/></g>
<g clip-path="url(#f7)"><path d="M459.3,631.6 Q462.9,641.4 471.8,653.0 Q479.8,660.1 480.7,670.0 M476.2,631.6 Q483.4,644.1 489.6,657.5 Q494.1,663.7 500.4,665.1 M480.7,675.3 Q486.1,679.8 498.6,674.4 M486.1,667.7 L490.5,669.5" fill="none" stroke="#111" stroke-width="0.8"/><path d="M448.6,644.1 Q458.4,647.6 465.5,663.7 M448.6,655.7 Q455.7,658.4 462.9,665.5 M455.7,653.9 L456.2,657.5 M461.1,661.0 L464.6,661.9" fill="none" stroke="#111" stroke-width="0.8"/><path d="M450.4,658.4 Q462.9,663.7 471.8,668.2 L479.8,669.5 Q481.6,674.4 479.8,679.8 L473.6,681.6 Q467.3,678.9 460.2,671.8 Q450.4,667.3 449.5,663.7 Q448.6,659.2 450.4,658.4 Z" fill="#fff" stroke="#111" stroke-width="0.9"/><path d="M473.6,670.9 L480.3,673.1 L478.5,680.2 L471.8,678.0 Z" fill="#6b6262"/><path d="M458.4,671.3 Q464.6,676.2 471.8,680.7" fill="none" stroke="#6b6262" stroke-width="2"/><path d="M463.8,665.5 Q466.4,669.1 469.1,670.0 M453.0,661.0 Q456.6,661.9 458.4,665.5" fill="none" stroke="#333" stroke-width="0.7"/></g>
<rect x="698.2" y="498.0" width="72.7" height="60.6" fill="none" stroke="#111" stroke-width="1.3"/>
<rect x="781.4" y="498.0" width="72.5" height="60.6" fill="none" stroke="#111" stroke-width="1.3"/>
<rect x="698.2" y="648.0" width="72.7" height="60.6" fill="none" stroke="#111" stroke-width="1.3"/>
<rect x="781.4" y="648.0" width="72.5" height="60.6" fill="none" stroke="#111" stroke-width="1.3"/>
<g clip-path="url(#f9)"><path d="M719.0,498.4 Q720.6,507.9 723.7,515.8 M733.3,498.4 Q734.0,507.9 735.6,517.4 M723.0,509.5 Q727.7,511.1 731.7,509.1" fill="none" stroke="#111" stroke-width="0.8" stroke-linecap="round" stroke-linejoin="round" /><path d="M746.7,499.2 Q745.1,507.9 740.4,517.4 M757.8,500.0 Q754.7,511.9 745.9,521.4 M742.8,512.6 L746.7,513.4" fill="none" stroke="#111" stroke-width="0.8" stroke-linecap="round" stroke-linejoin="round" /><circle cx="728.5" cy="519.8" r="3.6" fill="#fff" stroke="#111" stroke-width="0.7"/><path d="M735.6,517.4 L745.1,521.4 L741.2,529.3 L732.5,525.3 Z" fill="#6b6262"/><path d="M719.0,522.2 Q717.4,527.7 719.8,530.9 Q727.7,534.8 740.4,534.0 Q748.3,533.3 750.7,532.5 Q749.9,527.7 747.5,523.0 Q745.1,519.8 740.4,519.8" fill="none" stroke="#111" stroke-width="0.9" stroke-linecap="round" stroke-linejoin="round" /><path d="M719.8,525.3 Q727.7,530.9 740.4,530.9 Q746.7,530.9 750.7,532.5" fill="none" stroke="#111" stroke-width="0.8" stroke-linecap="round" stroke-linejoin="round" /><path d="M698.4,554.7 Q705.5,543.6 718.2,534.0 M711.9,558.6 Q715.0,545.1 719.8,537.2 M707.9,543.6 L711.9,543.6" fill="none" stroke="#111" stroke-width="0.8" stroke-linecap="round" stroke-linejoin="round" /><path d="M745.1,533.3 Q751.5,537.2 750.7,545.1 Q750.7,551.5 740.4,558.6 M738.8,553.1 L743.6,551.5 M746.7,540.4 L750.7,542.0" fill="none" stroke="#111" stroke-width="0.8" stroke-linecap="round" stroke-linejoin="round" /><path d="M731.7,543.6 L738.0,543.6 L727.7,558.6 L725.3,558.6 Z" fill="#6b6262"/><path d="M720.2,535.2 L724.9,540.4" fill="none" stroke="#6b6262" stroke-width="2.6" stroke-linecap="round" stroke-linejoin="round" /><path d="M718.2,534.0 Q729.3,540.4 740.4,543.6" fill="none" stroke="#111" stroke-width="0.8" stroke-linecap="round" stroke-linejoin="round" /><path d="M716.6,545.1 Q721.4,542.0 727.7,545.1 Q726.1,553.1 719.8,557.0 Q715.0,556.2 716.6,545.1 Z" fill="#6b6262"/><circle cx="722.2" cy="546.7" r="1.1" fill="#fff" stroke="none" stroke-width="0"/><path d="M766.6,542.0 L758.2,537.5" stroke="#111" stroke-width="2.0" fill="none"/><path d="M754.7,535.6 L759.7,535.6 L757.4,539.8 Z" fill="#111"/></g>
<g clip-path="url(#f10)"><path d="M802.0,498.4 Q803.6,507.9 806.7,515.8 M816.3,498.4 Q817.0,507.9 818.6,517.4 M806.0,509.5 Q810.7,511.1 814.7,509.1" fill="none" stroke="#111" stroke-width="0.8" stroke-linecap="round" stroke-linejoin="round" /><path d="M829.7,499.2 Q828.1,507.9 823.4,517.4 M840.8,500.0 Q837.7,511.9 828.9,521.4 M825.8,512.6 L829.7,513.4" fill="none" stroke="#111" stroke-width="0.8" stroke-linecap="round" stroke-linejoin="round" /><circle cx="811.5" cy="514.2" r="3.6" fill="#fff" stroke="#111" stroke-width="0.7"/><path d="M818.6,511.9 L828.1,515.8 L824.2,523.7 L815.5,519.8 Z" fill="#6b6262"/><path d="M802.0,516.6 Q800.4,522.2 802.8,528.1 Q810.7,534.8 823.4,534.0 Q831.3,533.3 833.7,532.5 Q832.9,522.2 830.5,517.4 Q828.1,514.2 823.4,514.2" fill="none" stroke="#111" stroke-width="0.9" stroke-linecap="round" stroke-linejoin="round" /><path d="M802.8,519.8 Q810.7,525.3 823.4,528.1 Q829.7,530.9 833.7,532.5" fill="none" stroke="#111" stroke-width="0.8" stroke-linecap="round" stroke-linejoin="round" /><path d="M781.4,554.7 Q788.5,543.6 801.2,534.0 M794.9,558.6 Q798.0,545.1 802.8,537.2 M790.9,543.6 L794.9,543.6" fill="none" stroke="#111" stroke-width="0.8" stroke-linecap="round" stroke-linejoin="round" /><path d="M828.1,533.3 Q834.5,537.2 833.7,545.1 Q833.7,551.5 823.4,558.6 M821.8,553.1 L826.6,551.5 M829.7,540.4 L833.7,542.0" fill="none" stroke="#111" stroke-width="0.8" stroke-linecap="round" stroke-linejoin="round" /><path d="M814.7,543.6 L821.0,543.6 L810.7,558.6 L808.3,558.6 Z" fill="#6b6262"/><path d="M803.2,535.2 L807.9,540.4" fill="none" stroke="#6b6262" stroke-width="2.6" stroke-linecap="round" stroke-linejoin="round" /><path d="M801.2,534.0 Q812.3,540.4 823.4,543.6" fill="none" stroke="#111" stroke-width="0.8" stroke-linecap="round" stroke-linejoin="round" /><path d="M799.6,545.1 Q804.4,542.0 810.7,545.1 Q809.1,553.1 802.8,557.0 Q798.0,556.2 799.6,545.1 Z" fill="#6b6262"/><circle cx="805.2" cy="546.7" r="1.1" fill="#fff" stroke="none" stroke-width="0"/><path d="M842.4,525.4 L842.4,515" stroke="#111" stroke-width="2.6"/><path d="M842.4,510.5 L846.6,517 L838.2,517 Z" fill="#111"/></g>
<g clip-path="url(#f11)"><path d="M711.1,648.4 Q719.8,659.5 729.3,666.6 M723.7,648.4 Q726.1,657.9 731.7,667.4 M732.5,649.2 L734.0,661.9 M744.4,648.4 Q738.8,653.9 735.6,660.3 Q738.8,661.9 740.4,665.8 M734.0,653.1 Q735.6,656.3 737.2,654.7" fill="none" stroke="#111" stroke-width="0.8" stroke-linecap="round" stroke-linejoin="round" /><path d="M730.1,668.2 L748.3,671.4 L743.6,679.3 L727.7,674.5 Z" fill="#6b6262"/><circle cx="739.6" cy="671.4" r="3.2" fill="#111" stroke="none" stroke-width="0"/><circle cx="740.4" cy="671.0" r="1.0" fill="#ddd" stroke="none" stroke-width="0"/><path d="M723.7,671.4 Q722.2,679.3 724.5,681.7 Q731.7,685.6 743.6,684.0 Q751.5,683.3 753.9,682.5 Q754.7,676.1 751.5,671.4 Q748.3,668.2 743.6,667.4" fill="none" stroke="#111" stroke-width="0.9" stroke-linecap="round" stroke-linejoin="round" /><path d="M724.5,674.5 Q731.7,680.9 743.6,680.9 Q750.7,680.9 753.9,682.5" fill="none" stroke="#111" stroke-width="0.8" stroke-linecap="round" stroke-linejoin="round" /><path d="M698.4,707.0 Q711.9,693.6 723.0,684.0 M715.8,707.0 Q719.0,695.1 723.7,685.6 M710.3,693.6 L715.0,693.6" fill="none" stroke="#111" stroke-width="0.8" stroke-linecap="round" stroke-linejoin="round" /><path d="M748.3,683.3 Q755.5,689.6 753.1,697.5 Q751.5,703.1 746.7,707.0 M742.0,702.3 L746.7,703.1" fill="none" stroke="#111" stroke-width="0.8" stroke-linecap="round" stroke-linejoin="round" /><path d="M737.2,693.6 L743.6,693.6 L733.3,707.8 L730.1,707.8 Z" fill="#6b6262"/><path d="M723.7,685.6 L729.3,690.4" fill="none" stroke="#6b6262" stroke-width="2.6" stroke-linecap="round" stroke-linejoin="round" /><path d="M719.8,697.5 Q726.1,693.6 730.9,696.7 Q729.3,703.9 723.0,707.0 Q719.0,706.2 719.8,697.5 Z" fill="#6b6262"/><circle cx="726.1" cy="696.7" r="1.1" fill="#fff" stroke="none" stroke-width="0"/></g>
<g clip-path="url(#f12)"><path d="M813.9,648.4 L813.9,658.7 L823.4,658.7 L823.4,648.4 M816.3,648.4 L816.3,657.9 M821.8,648.4 L821.8,657.9" fill="none" stroke="#111" stroke-width="0.8" stroke-linecap="round" stroke-linejoin="round" /><path d="M817.8,659.5 L817.8,666.6 M820.2,659.5 L820.2,666.6" fill="none" stroke="#333" stroke-width="0.7" stroke-linecap="round" stroke-linejoin="round" /><path d="M810.7,666.6 Q813.1,662.6 817.0,663.4 Q823.4,665.0 826.6,669.0 Q825.0,674.5 821.8,676.1 Q816.3,676.1 809.9,671.4 Z" fill="#fff" stroke="#111" stroke-width="0.9" stroke-linecap="round" stroke-linejoin="round" /><path d="M813.1,664.2 Q818.6,663.4 825.0,667.4 L823.4,672.2 Q817.0,671.4 812.3,668.2 Z" fill="#6b6262"/><path d="M809.9,671.4 Q816.3,677.7 823.4,676.1" fill="none" stroke="#111" stroke-width="0.8" stroke-linecap="round" stroke-linejoin="round" /><path d="M823.8,676.1 Q816.3,684.0 810.7,693.6" fill="none" stroke="#6b6262" stroke-width="3" stroke-linecap="round" stroke-linejoin="round" /><path d="M809.1,676.1 Q807.5,681.7 805.2,687.2 M782.2,701.5 Q790.9,687.2 802.8,680.9 Q807.5,679.3 812.3,680.9 M792.5,703.1 L798.0,703.1 M801.2,690.4 Q802.8,695.1 805.2,696.7 M802.0,696.7 Q802.8,701.5 807.5,701.5 M803.6,701.5 Q805.2,705.5 809.9,704.7 M799.6,707.0 L802.8,703.1 M809.1,693.6 Q813.9,696.7 812.3,701.5" fill="none" stroke="#111" stroke-width="0.8" stroke-linecap="round" stroke-linejoin="round" /><path d="M823.4,679.3 Q828.1,688.8 828.1,701.5 M820.2,684.0 Q821.8,693.6 821.8,700.7 M815.5,687.2 Q818.6,695.1 820.2,700.7" fill="none" stroke="#444" stroke-width="0.7" stroke-linecap="round" stroke-linejoin="round" stroke-dasharray="1.4,1.4"/><circle cx="810.7" cy="659.5" r="0.5" fill="#222" stroke="none" stroke-width="0"/><circle cx="806.7" cy="668.2" r="0.5" fill="#222" stroke="none" stroke-width="0"/><circle cx="828.1" cy="675.3" r="0.5" fill="#222" stroke="none" stroke-width="0"/><circle cx="823.4" cy="662.6" r="0.5" fill="#222" stroke="none" stroke-width="0"/><circle cx="806.0" cy="669.0" r="0.5" fill="#222" stroke="none" stroke-width="0"/><circle cx="826.6" cy="672.2" r="0.5" fill="#222" stroke="none" stroke-width="0"/></g>
<rect x="140.6" y="590.9" width="10.2" height="9.5" fill="#0a0606"/><text x="145.7" y="598.4" font-size="7.5" fill="#fff" font-weight="bold" font-style="italic" text-anchor="middle" font-family="Liberation Sans, sans-serif">1</text>
<rect x="195.4" y="590.9" width="10.2" height="9.5" fill="#0a0606"/><text x="200.5" y="598.4" font-size="7.5" fill="#fff" font-weight="bold" font-style="italic" text-anchor="middle" font-family="Liberation Sans, sans-serif">2</text>
<rect x="250.7" y="590.9" width="10.2" height="9.5" fill="#0a0606"/><text x="255.8" y="598.4" font-size="7.5" fill="#fff" font-weight="bold" font-style="italic" text-anchor="middle" font-family="Liberation Sans, sans-serif">3</text>
<rect x="168.4" y="634.9" width="10.2" height="9.5" fill="#0a0606"/><text x="173.5" y="642.4" font-size="7.5" fill="#fff" font-weight="bold" font-style="italic" text-anchor="middle" font-family="Liberation Sans, sans-serif">4</text>
<rect x="223.5" y="634.9" width="10.2" height="9.5" fill="#0a0606"/><text x="228.6" y="642.4" font-size="7.5" fill="#fff" font-weight="bold" font-style="italic" text-anchor="middle" font-family="Liberation Sans, sans-serif">5</text>
<rect x="428.8" y="631.1" width="9.7" height="9.6" fill="#0a0606"/><text x="433.7" y="638.6" font-size="7.5" fill="#fff" font-weight="bold" font-style="italic" text-anchor="middle" font-family="Liberation Sans, sans-serif">6</text>
<rect x="492.7" y="631.1" width="9.7" height="9.6" fill="#0a0606"/><text x="497.6" y="638.6" font-size="7.5" fill="#fff" font-weight="bold" font-style="italic" text-anchor="middle" font-family="Liberation Sans, sans-serif">7</text>
<rect x="555.7" y="631.1" width="9.7" height="9.6" fill="#0a0606"/><text x="560.5" y="638.6" font-size="7.5" fill="#fff" font-weight="bold" font-style="italic" text-anchor="middle" font-family="Liberation Sans, sans-serif">8</text>
<rect x="698.2" y="498.0" width="11.5" height="10.6" fill="#0a0606"/><text x="704.0" y="505.8" font-size="7" fill="#fff" font-weight="bold" font-style="italic" text-anchor="middle" font-family="Liberation Sans, sans-serif">9</text>
<rect x="781.4" y="498.0" width="11.5" height="10.6" fill="#0a0606"/><text x="787.1" y="505.8" font-size="7" fill="#fff" font-weight="bold" font-style="italic" text-anchor="middle" font-family="Liberation Sans, sans-serif">10</text>
<rect x="698.2" y="648.0" width="11.5" height="10.6" fill="#0a0606"/><text x="704.0" y="655.8" font-size="7" fill="#fff" font-weight="bold" font-style="italic" text-anchor="middle" font-family="Liberation Sans, sans-serif">11</text>
<rect x="781.4" y="648.0" width="11.5" height="10.6" fill="#0a0606"/><text x="787.1" y="655.8" font-size="7" fill="#fff" font-weight="bold" font-style="italic" text-anchor="middle" font-family="Liberation Sans, sans-serif">12</text>
</svg>
</body></html>
